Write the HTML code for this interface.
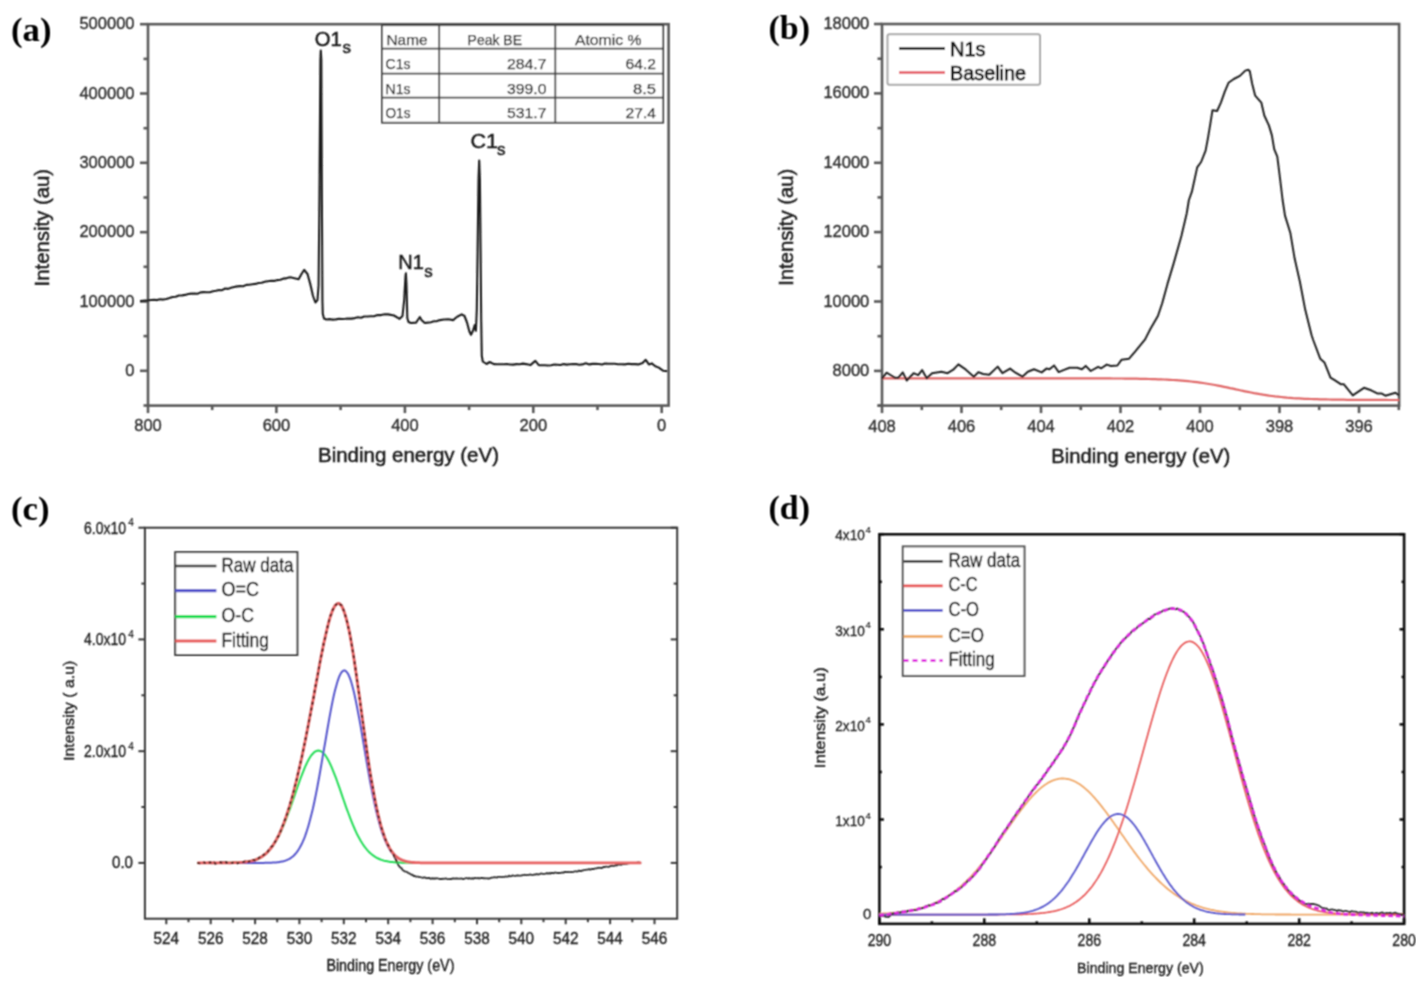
<!DOCTYPE html>
<html><head><meta charset="utf-8"><style>html,body{margin:0;padding:0;background:#fff;overflow:hidden}svg{display:block}</style></head><body>
<svg width="1425" height="984" viewBox="0 0 1425 984">
<defs><filter id="soft" x="0" y="0" width="1" height="1"><feConvolveMatrix order="3" kernelMatrix="1 2 1 2 4 2 1 2 1" edgeMode="none"/></filter></defs>
<rect width="1425" height="984" fill="#fff"/>
<g filter="url(#soft)">
<text x="11.0" y="40.6" font-family="Liberation Serif" font-size="34" font-weight="bold" text-anchor="start" fill="#000" textLength="40.5" lengthAdjust="spacingAndGlyphs" >(a)</text>
<text x="768.5" y="38.8" font-family="Liberation Serif" font-size="34" font-weight="bold" text-anchor="start" fill="#000" textLength="41.5" lengthAdjust="spacingAndGlyphs" >(b)</text>
<text x="11.0" y="520.2" font-family="Liberation Serif" font-size="34" font-weight="bold" text-anchor="start" fill="#000" textLength="38.5" lengthAdjust="spacingAndGlyphs" >(c)</text>
<text x="768.5" y="518.8" font-family="Liberation Serif" font-size="34" font-weight="bold" text-anchor="start" fill="#000" textLength="41.5" lengthAdjust="spacingAndGlyphs" >(d)</text>
<rect x="148.0" y="24.2" width="520.6" height="381.4" fill="none" stroke="#5a5a5a" stroke-width="2.6"/>
<line x1="140.0" y1="370.8" x2="148.0" y2="370.8" stroke="#5a5a5a" stroke-width="2.6"/>
<text x="134.5" y="375.8" font-family="Liberation Sans" font-size="16.5" font-weight="normal" text-anchor="end" fill="#2e2e2e" stroke="#2e2e2e" stroke-width="0.35" >0</text>
<line x1="140.0" y1="301.5" x2="148.0" y2="301.5" stroke="#5a5a5a" stroke-width="2.6"/>
<text x="134.5" y="306.5" font-family="Liberation Sans" font-size="16.5" font-weight="normal" text-anchor="end" fill="#2e2e2e" stroke="#2e2e2e" stroke-width="0.35" >100000</text>
<line x1="140.0" y1="232.2" x2="148.0" y2="232.2" stroke="#5a5a5a" stroke-width="2.6"/>
<text x="134.5" y="237.2" font-family="Liberation Sans" font-size="16.5" font-weight="normal" text-anchor="end" fill="#2e2e2e" stroke="#2e2e2e" stroke-width="0.35" >200000</text>
<line x1="140.0" y1="162.8" x2="148.0" y2="162.8" stroke="#5a5a5a" stroke-width="2.6"/>
<text x="134.5" y="167.8" font-family="Liberation Sans" font-size="16.5" font-weight="normal" text-anchor="end" fill="#2e2e2e" stroke="#2e2e2e" stroke-width="0.35" >300000</text>
<line x1="140.0" y1="93.5" x2="148.0" y2="93.5" stroke="#5a5a5a" stroke-width="2.6"/>
<text x="134.5" y="98.5" font-family="Liberation Sans" font-size="16.5" font-weight="normal" text-anchor="end" fill="#2e2e2e" stroke="#2e2e2e" stroke-width="0.35" >400000</text>
<line x1="140.0" y1="24.2" x2="148.0" y2="24.2" stroke="#5a5a5a" stroke-width="2.6"/>
<text x="134.5" y="29.2" font-family="Liberation Sans" font-size="16.5" font-weight="normal" text-anchor="end" fill="#2e2e2e" stroke="#2e2e2e" stroke-width="0.35" >500000</text>
<line x1="143.5" y1="405.5" x2="148.0" y2="405.5" stroke="#5a5a5a" stroke-width="2.6"/>
<line x1="143.5" y1="336.1" x2="148.0" y2="336.1" stroke="#5a5a5a" stroke-width="2.6"/>
<line x1="143.5" y1="266.8" x2="148.0" y2="266.8" stroke="#5a5a5a" stroke-width="2.6"/>
<line x1="143.5" y1="197.5" x2="148.0" y2="197.5" stroke="#5a5a5a" stroke-width="2.6"/>
<line x1="143.5" y1="128.2" x2="148.0" y2="128.2" stroke="#5a5a5a" stroke-width="2.6"/>
<line x1="143.5" y1="58.9" x2="148.0" y2="58.9" stroke="#5a5a5a" stroke-width="2.6"/>
<line x1="148.0" y1="405.6" x2="148.0" y2="413.1" stroke="#5a5a5a" stroke-width="2.6"/>
<text x="148.0" y="431.2" font-family="Liberation Sans" font-size="16.5" font-weight="normal" text-anchor="middle" fill="#2e2e2e" stroke="#2e2e2e" stroke-width="0.35" >800</text>
<line x1="276.4" y1="405.6" x2="276.4" y2="413.1" stroke="#5a5a5a" stroke-width="2.6"/>
<text x="276.4" y="431.2" font-family="Liberation Sans" font-size="16.5" font-weight="normal" text-anchor="middle" fill="#2e2e2e" stroke="#2e2e2e" stroke-width="0.35" >600</text>
<line x1="404.9" y1="405.6" x2="404.9" y2="413.1" stroke="#5a5a5a" stroke-width="2.6"/>
<text x="404.9" y="431.2" font-family="Liberation Sans" font-size="16.5" font-weight="normal" text-anchor="middle" fill="#2e2e2e" stroke="#2e2e2e" stroke-width="0.35" >400</text>
<line x1="533.3" y1="405.6" x2="533.3" y2="413.1" stroke="#5a5a5a" stroke-width="2.6"/>
<text x="533.3" y="431.2" font-family="Liberation Sans" font-size="16.5" font-weight="normal" text-anchor="middle" fill="#2e2e2e" stroke="#2e2e2e" stroke-width="0.35" >200</text>
<line x1="661.7" y1="405.6" x2="661.7" y2="413.1" stroke="#5a5a5a" stroke-width="2.6"/>
<text x="661.7" y="431.2" font-family="Liberation Sans" font-size="16.5" font-weight="normal" text-anchor="middle" fill="#2e2e2e" stroke="#2e2e2e" stroke-width="0.35" >0</text>
<line x1="212.2" y1="405.6" x2="212.2" y2="410.1" stroke="#5a5a5a" stroke-width="2.6"/>
<line x1="340.6" y1="405.6" x2="340.6" y2="410.1" stroke="#5a5a5a" stroke-width="2.6"/>
<line x1="469.1" y1="405.6" x2="469.1" y2="410.1" stroke="#5a5a5a" stroke-width="2.6"/>
<line x1="597.5" y1="405.6" x2="597.5" y2="410.1" stroke="#5a5a5a" stroke-width="2.6"/>
<text x="408.5" y="461.7" font-family="Liberation Sans" font-size="20" font-weight="normal" text-anchor="middle" fill="#1e1e1e" textLength="181.0" lengthAdjust="spacingAndGlyphs" stroke="#1e1e1e" stroke-width="0.5" >Binding energy (eV)</text>
<text x="0.0" y="0.0" font-family="Liberation Sans" font-size="20" font-weight="normal" text-anchor="middle" fill="#1e1e1e" textLength="117.5" lengthAdjust="spacingAndGlyphs" stroke="#1e1e1e" stroke-width="0.5" transform="translate(48.5,227.7) rotate(-90)">Intensity (au)</text>
<path d="M140.0,301.0 L148.0,300.4 L151.0,300.0 L154.1,299.7 L157.1,300.1 L160.2,299.2 L163.2,299.6 L166.3,298.9 L169.5,298.0 L172.6,297.0 L175.7,296.8 L178.9,295.5 L182.0,295.4 L185.1,294.9 L188.2,294.0 L191.3,293.6 L194.4,293.6 L197.5,293.7 L200.6,292.4 L203.7,292.1 L206.8,292.2 L209.9,292.2 L213.0,291.2 L216.0,290.8 L219.0,290.0 L222.1,290.2 L225.1,288.5 L228.1,288.9 L231.1,287.7 L234.2,287.0 L237.2,286.4 L240.2,286.1 L243.2,286.2 L246.3,284.9 L249.3,284.8 L252.3,284.2 L255.4,283.9 L258.5,283.0 L261.7,282.8 L264.8,281.7 L267.9,281.2 L271.0,280.8 L274.2,280.9 L277.3,280.1 L280.4,279.7 L283.7,278.6 L286.9,278.1 L290.2,277.2 L294.4,278.2 L298.6,279.3 L301.5,274.0 L304.2,269.8 L307.5,274.0 L310.5,284.9 L313.0,296.0 L315.4,302.5 L317.5,300.0 L318.6,285.0 L319.4,200.0 L320.4,60.0 L320.8,50.5 L321.3,60.0 L321.9,200.0 L322.4,300.0 L322.8,314.0 L324.0,318.5 L326.3,319.5 L329.5,319.1 L332.6,319.6 L335.8,319.4 L339.0,318.7 L342.1,319.0 L345.3,318.8 L348.4,318.5 L351.6,318.6 L354.8,318.1 L357.9,317.3 L361.1,317.8 L364.2,316.5 L367.4,316.5 L370.5,316.3 L374.0,316.2 L377.6,315.1 L381.1,315.1 L384.7,314.2 L388.2,314.4 L394.0,315.5 L399.6,318.8 L402.5,316.0 L404.2,300.0 L405.5,276.0 L405.9,273.4 L406.5,285.0 L407.3,318.0 L408.5,322.0 L411.0,323.0 L416.0,322.6 L418.5,319.0 L419.8,317.0 L421.5,320.0 L424.8,323.0 L427.8,322.6 L430.9,322.2 L433.9,321.3 L437.0,321.1 L440.0,320.1 L444.1,319.5 L448.3,319.3 L453.1,320.1 L457.2,316.8 L461.7,314.4 L464.5,316.0 L467.0,322.5 L469.4,331.5 L471.0,334.7 L473.0,330.7 L474.7,325.0 L475.9,330.7 L476.8,310.0 L477.6,250.0 L478.5,180.0 L479.2,160.5 L479.9,180.0 L480.6,250.0 L481.2,320.0 L481.8,356.0 L482.8,361.5 L486.5,364.0 L489.7,362.0 L493.9,364.1 L497.1,364.3 L500.3,364.2 L503.6,364.2 L506.8,364.0 L510.0,364.5 L513.2,364.6 L516.4,364.1 L519.7,364.3 L522.9,363.6 L526.1,364.1 L530.4,365.1 L535.3,360.9 L538.8,365.1 L541.9,365.3 L545.0,365.2 L548.1,365.5 L551.2,365.3 L554.3,364.6 L557.4,364.7 L560.5,365.0 L563.7,364.1 L566.8,364.6 L569.9,364.2 L573.0,364.1 L576.1,364.0 L579.2,364.8 L582.3,364.4 L585.8,363.3 L589.3,364.4 L592.5,363.9 L595.6,363.9 L598.8,364.0 L602.0,364.5 L605.1,363.5 L608.3,363.8 L611.4,363.8 L614.6,363.7 L618.0,364.3 L621.4,364.3 L624.8,364.4 L628.2,363.8 L631.6,364.1 L635.0,364.1 L638.4,364.4 L642.6,363.0 L645.7,359.8 L648.9,364.4 L651.8,363.4 L655.3,366.2 L658.8,367.6 L663.0,370.7 L667.2,371.1" fill="none" stroke="#1e1e1e" stroke-width="2.1" stroke-linejoin="round"/>
<text x="314.7" y="46.2" font-family="Liberation Sans" font-size="20" font-weight="normal" text-anchor="start" fill="#1a1a1a" textLength="27.0" lengthAdjust="spacingAndGlyphs" stroke="#1a1a1a" stroke-width="0.45" >O1</text>
<text x="398.3" y="269.0" font-family="Liberation Sans" font-size="20" font-weight="normal" text-anchor="start" fill="#1a1a1a" stroke="#1a1a1a" stroke-width="0.45" >N1</text>
<text x="470.6" y="148.2" font-family="Liberation Sans" font-size="20" font-weight="normal" text-anchor="start" fill="#1a1a1a" textLength="27.5" lengthAdjust="spacingAndGlyphs" stroke="#1a1a1a" stroke-width="0.45" >C1</text>
<text x="342.6" y="53.4" font-family="Liberation Sans" font-size="17" font-weight="normal" text-anchor="start" fill="#1a1a1a" stroke="#1a1a1a" stroke-width="0.45" >s</text>
<text x="424.2" y="277.1" font-family="Liberation Sans" font-size="17" font-weight="normal" text-anchor="start" fill="#1a1a1a" stroke="#1a1a1a" stroke-width="0.45" >s</text>
<text x="496.9" y="155.2" font-family="Liberation Sans" font-size="17" font-weight="normal" text-anchor="start" fill="#1a1a1a" stroke="#1a1a1a" stroke-width="0.45" >s</text>
<rect x="382.0" y="25.2" width="281.2" height="97.5" fill="#fff" stroke="#404040" stroke-width="1.8"/>
<line x1="439.2" y1="25.2" x2="439.2" y2="122.7" stroke="#404040" stroke-width="1.8"/>
<line x1="555.3" y1="25.2" x2="555.3" y2="122.7" stroke="#404040" stroke-width="1.8"/>
<line x1="382.0" y1="48.7" x2="663.2" y2="48.7" stroke="#404040" stroke-width="1.8"/>
<line x1="382.0" y1="73.7" x2="663.2" y2="73.7" stroke="#404040" stroke-width="1.8"/>
<line x1="382.0" y1="97.7" x2="663.2" y2="97.7" stroke="#404040" stroke-width="1.8"/>
<text x="386.5" y="45.0" font-family="Liberation Sans" font-size="14.5" font-weight="normal" text-anchor="start" fill="#2a2a2a" textLength="41.0" lengthAdjust="spacingAndGlyphs" stroke="#2a2a2a" stroke-width="0.25" >Name</text>
<text x="494.8" y="45.0" font-family="Liberation Sans" font-size="14.5" font-weight="normal" text-anchor="middle" fill="#2a2a2a" textLength="54.5" lengthAdjust="spacingAndGlyphs" stroke="#2a2a2a" stroke-width="0.25" >Peak BE</text>
<text x="608.2" y="45.0" font-family="Liberation Sans" font-size="14.5" font-weight="normal" text-anchor="middle" fill="#2a2a2a" textLength="66.5" lengthAdjust="spacingAndGlyphs" stroke="#2a2a2a" stroke-width="0.25" >Atomic %</text>
<text x="385.5" y="69.0" font-family="Liberation Sans" font-size="14.5" font-weight="normal" text-anchor="start" fill="#2a2a2a" textLength="25.0" lengthAdjust="spacingAndGlyphs" stroke="#2a2a2a" stroke-width="0.25" >C1s</text>
<text x="546.5" y="69.0" font-family="Liberation Sans" font-size="14.5" font-weight="normal" text-anchor="end" fill="#2a2a2a" textLength="39.5" lengthAdjust="spacingAndGlyphs" stroke="#2a2a2a" stroke-width="0.25" >284.7</text>
<text x="656.0" y="69.0" font-family="Liberation Sans" font-size="14.5" font-weight="normal" text-anchor="end" fill="#2a2a2a" textLength="30.5" lengthAdjust="spacingAndGlyphs" stroke="#2a2a2a" stroke-width="0.25" >64.2</text>
<text x="385.5" y="94.0" font-family="Liberation Sans" font-size="14.5" font-weight="normal" text-anchor="start" fill="#2a2a2a" textLength="25.0" lengthAdjust="spacingAndGlyphs" stroke="#2a2a2a" stroke-width="0.25" >N1s</text>
<text x="546.5" y="94.0" font-family="Liberation Sans" font-size="14.5" font-weight="normal" text-anchor="end" fill="#2a2a2a" textLength="39.5" lengthAdjust="spacingAndGlyphs" stroke="#2a2a2a" stroke-width="0.25" >399.0</text>
<text x="656.0" y="94.0" font-family="Liberation Sans" font-size="14.5" font-weight="normal" text-anchor="end" fill="#2a2a2a" textLength="23.0" lengthAdjust="spacingAndGlyphs" stroke="#2a2a2a" stroke-width="0.25" >8.5</text>
<text x="385.5" y="118.0" font-family="Liberation Sans" font-size="14.5" font-weight="normal" text-anchor="start" fill="#2a2a2a" textLength="25.0" lengthAdjust="spacingAndGlyphs" stroke="#2a2a2a" stroke-width="0.25" >O1s</text>
<text x="546.5" y="118.0" font-family="Liberation Sans" font-size="14.5" font-weight="normal" text-anchor="end" fill="#2a2a2a" textLength="39.5" lengthAdjust="spacingAndGlyphs" stroke="#2a2a2a" stroke-width="0.25" >531.7</text>
<text x="656.0" y="118.0" font-family="Liberation Sans" font-size="14.5" font-weight="normal" text-anchor="end" fill="#2a2a2a" textLength="30.5" lengthAdjust="spacingAndGlyphs" stroke="#2a2a2a" stroke-width="0.25" >27.4</text>
<rect x="882.0" y="24.0" width="517.1" height="381.6" fill="none" stroke="#5a5a5a" stroke-width="2.6"/>
<line x1="874.0" y1="370.9" x2="882.0" y2="370.9" stroke="#5a5a5a" stroke-width="2.6"/>
<text x="869.3" y="375.9" font-family="Liberation Sans" font-size="16.5" font-weight="normal" text-anchor="end" fill="#2e2e2e" stroke="#2e2e2e" stroke-width="0.35" >8000</text>
<line x1="874.0" y1="301.5" x2="882.0" y2="301.5" stroke="#5a5a5a" stroke-width="2.6"/>
<text x="869.3" y="306.5" font-family="Liberation Sans" font-size="16.5" font-weight="normal" text-anchor="end" fill="#2e2e2e" stroke="#2e2e2e" stroke-width="0.35" >10000</text>
<line x1="874.0" y1="232.1" x2="882.0" y2="232.1" stroke="#5a5a5a" stroke-width="2.6"/>
<text x="869.3" y="237.1" font-family="Liberation Sans" font-size="16.5" font-weight="normal" text-anchor="end" fill="#2e2e2e" stroke="#2e2e2e" stroke-width="0.35" >12000</text>
<line x1="874.0" y1="162.8" x2="882.0" y2="162.8" stroke="#5a5a5a" stroke-width="2.6"/>
<text x="869.3" y="167.8" font-family="Liberation Sans" font-size="16.5" font-weight="normal" text-anchor="end" fill="#2e2e2e" stroke="#2e2e2e" stroke-width="0.35" >14000</text>
<line x1="874.0" y1="93.4" x2="882.0" y2="93.4" stroke="#5a5a5a" stroke-width="2.6"/>
<text x="869.3" y="98.4" font-family="Liberation Sans" font-size="16.5" font-weight="normal" text-anchor="end" fill="#2e2e2e" stroke="#2e2e2e" stroke-width="0.35" >16000</text>
<line x1="874.0" y1="24.0" x2="882.0" y2="24.0" stroke="#5a5a5a" stroke-width="2.6"/>
<text x="869.3" y="29.0" font-family="Liberation Sans" font-size="16.5" font-weight="normal" text-anchor="end" fill="#2e2e2e" stroke="#2e2e2e" stroke-width="0.35" >18000</text>
<line x1="877.5" y1="405.6" x2="882.0" y2="405.6" stroke="#5a5a5a" stroke-width="2.6"/>
<line x1="877.5" y1="336.2" x2="882.0" y2="336.2" stroke="#5a5a5a" stroke-width="2.6"/>
<line x1="877.5" y1="266.8" x2="882.0" y2="266.8" stroke="#5a5a5a" stroke-width="2.6"/>
<line x1="877.5" y1="197.4" x2="882.0" y2="197.4" stroke="#5a5a5a" stroke-width="2.6"/>
<line x1="877.5" y1="128.1" x2="882.0" y2="128.1" stroke="#5a5a5a" stroke-width="2.6"/>
<line x1="877.5" y1="58.7" x2="882.0" y2="58.7" stroke="#5a5a5a" stroke-width="2.6"/>
<line x1="882.0" y1="405.6" x2="882.0" y2="413.1" stroke="#5a5a5a" stroke-width="2.6"/>
<text x="882.0" y="431.5" font-family="Liberation Sans" font-size="16.5" font-weight="normal" text-anchor="middle" fill="#2e2e2e" stroke="#2e2e2e" stroke-width="0.35" >408</text>
<line x1="961.5" y1="405.6" x2="961.5" y2="413.1" stroke="#5a5a5a" stroke-width="2.6"/>
<text x="961.5" y="431.5" font-family="Liberation Sans" font-size="16.5" font-weight="normal" text-anchor="middle" fill="#2e2e2e" stroke="#2e2e2e" stroke-width="0.35" >406</text>
<line x1="1041.0" y1="405.6" x2="1041.0" y2="413.1" stroke="#5a5a5a" stroke-width="2.6"/>
<text x="1041.0" y="431.5" font-family="Liberation Sans" font-size="16.5" font-weight="normal" text-anchor="middle" fill="#2e2e2e" stroke="#2e2e2e" stroke-width="0.35" >404</text>
<line x1="1120.5" y1="405.6" x2="1120.5" y2="413.1" stroke="#5a5a5a" stroke-width="2.6"/>
<text x="1120.5" y="431.5" font-family="Liberation Sans" font-size="16.5" font-weight="normal" text-anchor="middle" fill="#2e2e2e" stroke="#2e2e2e" stroke-width="0.35" >402</text>
<line x1="1200.0" y1="405.6" x2="1200.0" y2="413.1" stroke="#5a5a5a" stroke-width="2.6"/>
<text x="1200.0" y="431.5" font-family="Liberation Sans" font-size="16.5" font-weight="normal" text-anchor="middle" fill="#2e2e2e" stroke="#2e2e2e" stroke-width="0.35" >400</text>
<line x1="1279.5" y1="405.6" x2="1279.5" y2="413.1" stroke="#5a5a5a" stroke-width="2.6"/>
<text x="1279.5" y="431.5" font-family="Liberation Sans" font-size="16.5" font-weight="normal" text-anchor="middle" fill="#2e2e2e" stroke="#2e2e2e" stroke-width="0.35" >398</text>
<line x1="1359.0" y1="405.6" x2="1359.0" y2="413.1" stroke="#5a5a5a" stroke-width="2.6"/>
<text x="1359.0" y="431.5" font-family="Liberation Sans" font-size="16.5" font-weight="normal" text-anchor="middle" fill="#2e2e2e" stroke="#2e2e2e" stroke-width="0.35" >396</text>
<line x1="921.8" y1="405.6" x2="921.8" y2="410.1" stroke="#5a5a5a" stroke-width="2.6"/>
<line x1="1001.2" y1="405.6" x2="1001.2" y2="410.1" stroke="#5a5a5a" stroke-width="2.6"/>
<line x1="1080.8" y1="405.6" x2="1080.8" y2="410.1" stroke="#5a5a5a" stroke-width="2.6"/>
<line x1="1160.2" y1="405.6" x2="1160.2" y2="410.1" stroke="#5a5a5a" stroke-width="2.6"/>
<line x1="1239.8" y1="405.6" x2="1239.8" y2="410.1" stroke="#5a5a5a" stroke-width="2.6"/>
<line x1="1319.2" y1="405.6" x2="1319.2" y2="410.1" stroke="#5a5a5a" stroke-width="2.6"/>
<line x1="1398.8" y1="405.6" x2="1398.8" y2="410.1" stroke="#5a5a5a" stroke-width="2.6"/>
<line x1="877.5" y1="405.6" x2="882.0" y2="405.6" stroke="#5a5a5a" stroke-width="2.6"/>
<text x="1140.8" y="462.9" font-family="Liberation Sans" font-size="20" font-weight="normal" text-anchor="middle" fill="#1e1e1e" textLength="179.0" lengthAdjust="spacingAndGlyphs" stroke="#1e1e1e" stroke-width="0.5" >Binding energy (eV)</text>
<text x="0.0" y="0.0" font-family="Liberation Sans" font-size="20" font-weight="normal" text-anchor="middle" fill="#1e1e1e" textLength="117.0" lengthAdjust="spacingAndGlyphs" stroke="#1e1e1e" stroke-width="0.5" transform="translate(793,227.3) rotate(-90)">Intensity (au)</text>
<path d="M882.0,378.3 L885.0,378.3 L888.0,378.3 L891.0,378.3 L894.0,378.3 L897.0,378.3 L900.0,378.3 L903.0,378.3 L906.0,378.3 L909.0,378.3 L912.0,378.3 L915.0,378.3 L918.0,378.3 L921.0,378.3 L924.0,378.3 L927.0,378.3 L930.0,378.3 L933.0,378.3 L936.0,378.3 L939.0,378.3 L942.0,378.3 L945.0,378.3 L948.0,378.3 L951.0,378.3 L954.0,378.3 L957.0,378.3 L960.0,378.3 L963.0,378.3 L966.0,378.3 L969.0,378.3 L972.0,378.3 L975.0,378.3 L978.0,378.3 L981.0,378.3 L984.0,378.3 L987.0,378.3 L990.0,378.3 L993.0,378.3 L996.0,378.3 L999.0,378.3 L1002.0,378.3 L1005.0,378.3 L1008.0,378.3 L1011.0,378.3 L1014.0,378.3 L1017.0,378.3 L1020.0,378.3 L1023.0,378.3 L1026.0,378.3 L1029.0,378.3 L1032.0,378.3 L1035.0,378.3 L1038.0,378.3 L1041.0,378.3 L1044.0,378.3 L1047.0,378.3 L1050.0,378.3 L1053.0,378.3 L1056.0,378.3 L1059.0,378.3 L1062.0,378.3 L1065.0,378.3 L1068.0,378.3 L1071.0,378.3 L1074.0,378.3 L1077.0,378.3 L1080.0,378.3 L1083.0,378.3 L1086.0,378.4 L1089.0,378.4 L1092.0,378.4 L1095.0,378.4 L1098.0,378.4 L1101.0,378.4 L1104.0,378.4 L1107.0,378.4 L1110.0,378.4 L1113.0,378.5 L1116.0,378.5 L1119.0,378.5 L1122.0,378.5 L1125.0,378.6 L1128.0,378.6 L1131.0,378.6 L1134.0,378.7 L1137.0,378.7 L1140.0,378.8 L1143.0,378.8 L1146.0,378.9 L1149.0,379.0 L1152.0,379.1 L1155.0,379.1 L1158.0,379.3 L1161.0,379.4 L1164.0,379.5 L1167.0,379.6 L1170.0,379.8 L1173.0,380.0 L1176.0,380.2 L1179.0,380.4 L1182.0,380.6 L1185.0,380.9 L1188.0,381.2 L1191.0,381.5 L1194.0,381.8 L1197.0,382.2 L1200.0,382.6 L1203.0,383.0 L1206.0,383.5 L1209.0,384.0 L1212.0,384.5 L1215.0,385.0 L1218.0,385.6 L1221.0,386.2 L1224.0,386.8 L1227.0,387.4 L1230.0,388.1 L1233.0,388.7 L1236.0,389.4 L1239.0,390.0 L1242.0,390.7 L1245.0,391.3 L1248.0,391.9 L1251.0,392.5 L1254.0,393.1 L1257.0,393.6 L1260.0,394.2 L1263.0,394.7 L1266.0,395.1 L1269.0,395.6 L1272.0,396.0 L1275.0,396.4 L1278.0,396.7 L1281.0,397.0 L1284.0,397.3 L1287.0,397.6 L1290.0,397.8 L1293.0,398.1 L1296.0,398.3 L1299.0,398.4 L1302.0,398.6 L1305.0,398.8 L1308.0,398.9 L1311.0,399.0 L1314.0,399.1 L1317.0,399.2 L1320.0,399.3 L1323.0,399.4 L1326.0,399.4 L1329.0,399.5 L1332.0,399.6 L1335.0,399.6 L1338.0,399.7 L1341.0,399.7 L1344.0,399.7 L1347.0,399.8 L1350.0,399.8 L1353.0,399.8 L1356.0,399.8 L1359.0,399.8 L1362.0,399.9 L1365.0,399.9 L1368.0,399.9 L1371.0,399.9 L1374.0,399.9 L1377.0,399.9 L1380.0,399.9 L1383.0,399.9 L1386.0,399.9 L1389.0,400.0 L1392.0,400.0 L1395.0,400.0 L1398.0,400.0 L1399.1,400.0" fill="none" stroke="#e06868" stroke-width="2.2"/>
<path d="M882.0,378.6 L886.6,372.7 L890.5,375.0 L895.1,377.8 L898.2,377.8 L902.8,372.4 L906.7,380.5 L913.6,373.2 L918.2,375.2 L922.1,370.1 L926.7,378.3 L932.1,373.2 L941.4,371.7 L947.6,373.2 L953.7,369.3 L958.4,364.4 L964.5,368.6 L973.8,376.7 L978.4,372.1 L983.1,374.0 L989.2,374.7 L997.7,366.6 L1002.4,373.2 L1010.1,368.6 L1015.5,372.7 L1022.4,376.7 L1027.8,371.7 L1034.0,369.3 L1041.7,372.4 L1046.4,368.6 L1049.5,369.3 L1054.1,365.5 L1058.7,372.1 L1063.4,370.1 L1069.5,367.8 L1077.3,367.8 L1081.9,369.3 L1085.7,365.9 L1090.7,371.0 L1098.1,366.8 L1101.3,368.3 L1106.7,364.6 L1111.0,366.0 L1117.4,365.5 L1121.6,359.7 L1129.1,358.7 L1135.5,351.2 L1145.1,339.4 L1150.5,328.8 L1157.9,316.0 L1162.2,303.2 L1167.5,283.9 L1173.9,262.6 L1181.4,235.9 L1186.7,213.5 L1188.9,200.0 L1191.9,191.7 L1197.2,167.4 L1201.1,162.0 L1205.6,150.6 L1207.9,138.4 L1210.2,124.7 L1212.5,110.2 L1217.1,111.0 L1220.9,102.6 L1224.7,91.9 L1228.5,82.8 L1233.8,79.0 L1239.9,75.9 L1245.3,70.6 L1248.3,69.8 L1249.8,71.3 L1252.1,83.5 L1255.2,95.7 L1261.3,102.6 L1264.3,115.5 L1268.9,125.4 L1271.9,135.4 L1274.2,149.1 L1277.3,156.7 L1279.6,175.0 L1282.6,200.0 L1285.0,215.6 L1290.3,232.7 L1294.6,258.3 L1299.9,281.8 L1305.2,309.6 L1311.6,335.2 L1313.2,340.0 L1320.3,358.8 L1324.4,362.4 L1330.5,377.6 L1334.6,380.1 L1340.7,384.2 L1343.7,384.2 L1352.8,395.4 L1364.0,387.8 L1371.1,390.3 L1377.2,393.4 L1381.3,393.4 L1385.4,395.7 L1395.5,392.8 L1399.1,395.4" fill="none" stroke="#222" stroke-width="2.0" stroke-linejoin="round"/>
<rect x="887.5" y="34.2" width="152.5" height="50.5" rx="2" fill="#fff" stroke="#a8a8a8" stroke-width="2"/>
<line x1="899.0" y1="48.5" x2="945.0" y2="48.5" stroke="#3a3a3a" stroke-width="2.8"/>
<line x1="899.0" y1="72.5" x2="945.0" y2="72.5" stroke="#e87078" stroke-width="2.8"/>
<text x="950.0" y="55.5" font-family="Liberation Sans" font-size="20" font-weight="normal" text-anchor="start" fill="#141414" stroke="#141414" stroke-width="0.75" >N1s</text>
<text x="950.0" y="79.6" font-family="Liberation Sans" font-size="20" font-weight="normal" text-anchor="start" fill="#141414" textLength="76.0" lengthAdjust="spacingAndGlyphs" stroke="#141414" stroke-width="0.75" >Baseline</text>
<rect x="144.9" y="527.7" width="532.3" height="391.0" fill="none" stroke="#383838" stroke-width="2"/>
<line x1="138.4" y1="862.9" x2="144.9" y2="862.9" stroke="#383838" stroke-width="2"/>
<line x1="670.7" y1="862.9" x2="677.2" y2="862.9" stroke="#383838" stroke-width="2"/>
<line x1="138.4" y1="751.2" x2="144.9" y2="751.2" stroke="#383838" stroke-width="2"/>
<line x1="670.7" y1="751.2" x2="677.2" y2="751.2" stroke="#383838" stroke-width="2"/>
<line x1="138.4" y1="639.4" x2="144.9" y2="639.4" stroke="#383838" stroke-width="2"/>
<line x1="670.7" y1="639.4" x2="677.2" y2="639.4" stroke="#383838" stroke-width="2"/>
<line x1="138.4" y1="527.7" x2="144.9" y2="527.7" stroke="#383838" stroke-width="2"/>
<line x1="670.7" y1="527.7" x2="677.2" y2="527.7" stroke="#383838" stroke-width="2"/>
<line x1="141.4" y1="807.0" x2="144.9" y2="807.0" stroke="#383838" stroke-width="2"/>
<line x1="673.7" y1="807.0" x2="677.2" y2="807.0" stroke="#383838" stroke-width="2"/>
<line x1="141.4" y1="695.3" x2="144.9" y2="695.3" stroke="#383838" stroke-width="2"/>
<line x1="673.7" y1="695.3" x2="677.2" y2="695.3" stroke="#383838" stroke-width="2"/>
<line x1="141.4" y1="583.6" x2="144.9" y2="583.6" stroke="#383838" stroke-width="2"/>
<line x1="673.7" y1="583.6" x2="677.2" y2="583.6" stroke="#383838" stroke-width="2"/>
<line x1="166.3" y1="918.7" x2="166.3" y2="924.2" stroke="#383838" stroke-width="2"/>
<text x="166.3" y="944.2" font-family="Liberation Sans" font-size="16.2" font-weight="normal" text-anchor="middle" fill="#222" textLength="25.5" lengthAdjust="spacingAndGlyphs" stroke="#222" stroke-width="0.35" >524</text>
<line x1="210.7" y1="918.7" x2="210.7" y2="924.2" stroke="#383838" stroke-width="2"/>
<text x="210.7" y="944.2" font-family="Liberation Sans" font-size="16.2" font-weight="normal" text-anchor="middle" fill="#222" textLength="25.5" lengthAdjust="spacingAndGlyphs" stroke="#222" stroke-width="0.35" >526</text>
<line x1="255.1" y1="918.7" x2="255.1" y2="924.2" stroke="#383838" stroke-width="2"/>
<text x="255.1" y="944.2" font-family="Liberation Sans" font-size="16.2" font-weight="normal" text-anchor="middle" fill="#222" textLength="25.5" lengthAdjust="spacingAndGlyphs" stroke="#222" stroke-width="0.35" >528</text>
<line x1="299.4" y1="918.7" x2="299.4" y2="924.2" stroke="#383838" stroke-width="2"/>
<text x="299.4" y="944.2" font-family="Liberation Sans" font-size="16.2" font-weight="normal" text-anchor="middle" fill="#222" textLength="25.5" lengthAdjust="spacingAndGlyphs" stroke="#222" stroke-width="0.35" >530</text>
<line x1="343.8" y1="918.7" x2="343.8" y2="924.2" stroke="#383838" stroke-width="2"/>
<text x="343.8" y="944.2" font-family="Liberation Sans" font-size="16.2" font-weight="normal" text-anchor="middle" fill="#222" textLength="25.5" lengthAdjust="spacingAndGlyphs" stroke="#222" stroke-width="0.35" >532</text>
<line x1="388.2" y1="918.7" x2="388.2" y2="924.2" stroke="#383838" stroke-width="2"/>
<text x="388.2" y="944.2" font-family="Liberation Sans" font-size="16.2" font-weight="normal" text-anchor="middle" fill="#222" textLength="25.5" lengthAdjust="spacingAndGlyphs" stroke="#222" stroke-width="0.35" >534</text>
<line x1="432.6" y1="918.7" x2="432.6" y2="924.2" stroke="#383838" stroke-width="2"/>
<text x="432.6" y="944.2" font-family="Liberation Sans" font-size="16.2" font-weight="normal" text-anchor="middle" fill="#222" textLength="25.5" lengthAdjust="spacingAndGlyphs" stroke="#222" stroke-width="0.35" >536</text>
<line x1="477.0" y1="918.7" x2="477.0" y2="924.2" stroke="#383838" stroke-width="2"/>
<text x="477.0" y="944.2" font-family="Liberation Sans" font-size="16.2" font-weight="normal" text-anchor="middle" fill="#222" textLength="25.5" lengthAdjust="spacingAndGlyphs" stroke="#222" stroke-width="0.35" >538</text>
<line x1="521.3" y1="918.7" x2="521.3" y2="924.2" stroke="#383838" stroke-width="2"/>
<text x="521.3" y="944.2" font-family="Liberation Sans" font-size="16.2" font-weight="normal" text-anchor="middle" fill="#222" textLength="25.5" lengthAdjust="spacingAndGlyphs" stroke="#222" stroke-width="0.35" >540</text>
<line x1="565.7" y1="918.7" x2="565.7" y2="924.2" stroke="#383838" stroke-width="2"/>
<text x="565.7" y="944.2" font-family="Liberation Sans" font-size="16.2" font-weight="normal" text-anchor="middle" fill="#222" textLength="25.5" lengthAdjust="spacingAndGlyphs" stroke="#222" stroke-width="0.35" >542</text>
<line x1="610.1" y1="918.7" x2="610.1" y2="924.2" stroke="#383838" stroke-width="2"/>
<text x="610.1" y="944.2" font-family="Liberation Sans" font-size="16.2" font-weight="normal" text-anchor="middle" fill="#222" textLength="25.5" lengthAdjust="spacingAndGlyphs" stroke="#222" stroke-width="0.35" >544</text>
<line x1="654.5" y1="918.7" x2="654.5" y2="924.2" stroke="#383838" stroke-width="2"/>
<text x="654.5" y="944.2" font-family="Liberation Sans" font-size="16.2" font-weight="normal" text-anchor="middle" fill="#222" textLength="25.5" lengthAdjust="spacingAndGlyphs" stroke="#222" stroke-width="0.35" >546</text>
<line x1="188.5" y1="918.7" x2="188.5" y2="922.2" stroke="#383838" stroke-width="2"/>
<line x1="232.9" y1="918.7" x2="232.9" y2="922.2" stroke="#383838" stroke-width="2"/>
<line x1="277.2" y1="918.7" x2="277.2" y2="922.2" stroke="#383838" stroke-width="2"/>
<line x1="321.6" y1="918.7" x2="321.6" y2="922.2" stroke="#383838" stroke-width="2"/>
<line x1="366.0" y1="918.7" x2="366.0" y2="922.2" stroke="#383838" stroke-width="2"/>
<line x1="410.4" y1="918.7" x2="410.4" y2="922.2" stroke="#383838" stroke-width="2"/>
<line x1="454.8" y1="918.7" x2="454.8" y2="922.2" stroke="#383838" stroke-width="2"/>
<line x1="499.2" y1="918.7" x2="499.2" y2="922.2" stroke="#383838" stroke-width="2"/>
<line x1="543.5" y1="918.7" x2="543.5" y2="922.2" stroke="#383838" stroke-width="2"/>
<line x1="587.9" y1="918.7" x2="587.9" y2="922.2" stroke="#383838" stroke-width="2"/>
<line x1="632.3" y1="918.7" x2="632.3" y2="922.2" stroke="#383838" stroke-width="2"/>
<text x="133.0" y="868.4" font-family="Liberation Sans" font-size="16.5" font-weight="normal" text-anchor="end" fill="#222" textLength="21.0" lengthAdjust="spacingAndGlyphs" stroke="#222" stroke-width="0.35" >0.0</text>
<text x="126.0" y="757.2" font-family="Liberation Sans" font-size="16.5" font-weight="normal" text-anchor="end" fill="#222" textLength="42.0" lengthAdjust="spacingAndGlyphs" stroke="#222" stroke-width="0.35" >2.0x10</text>
<text x="128.2" y="749.8" font-family="Liberation Sans" font-size="10" font-weight="normal" text-anchor="start" fill="#222" stroke="#222" stroke-width="0.2" >4</text>
<text x="126.0" y="645.4" font-family="Liberation Sans" font-size="16.5" font-weight="normal" text-anchor="end" fill="#222" textLength="42.0" lengthAdjust="spacingAndGlyphs" stroke="#222" stroke-width="0.35" >4.0x10</text>
<text x="128.2" y="638.0" font-family="Liberation Sans" font-size="10" font-weight="normal" text-anchor="start" fill="#222" stroke="#222" stroke-width="0.2" >4</text>
<text x="126.0" y="533.7" font-family="Liberation Sans" font-size="16.5" font-weight="normal" text-anchor="end" fill="#222" textLength="42.0" lengthAdjust="spacingAndGlyphs" stroke="#222" stroke-width="0.35" >6.0x10</text>
<text x="128.2" y="526.3" font-family="Liberation Sans" font-size="10" font-weight="normal" text-anchor="start" fill="#222" stroke="#222" stroke-width="0.2" >4</text>
<text x="390.4" y="970.5" font-family="Liberation Sans" font-size="16" font-weight="normal" text-anchor="middle" fill="#1a1a1a" textLength="128.0" lengthAdjust="spacingAndGlyphs" stroke="#1a1a1a" stroke-width="0.35" >Binding Energy (eV)</text>
<text x="0.0" y="0.0" font-family="Liberation Sans" font-size="15" font-weight="normal" text-anchor="middle" fill="#1a1a1a" textLength="100.0" lengthAdjust="spacingAndGlyphs" stroke="#1a1a1a" stroke-width="0.35" transform="translate(74.3,710.8) rotate(-90)">Intensity ( a.u)</text>
<path d="M197.4,862.8 L198.5,863.0 L199.6,863.4 L200.7,862.9 L201.8,862.9 L202.9,863.0 L204.0,862.5 L205.1,862.9 L206.2,863.1 L207.4,863.2 L208.5,862.4 L209.6,862.7 L210.7,862.4 L211.8,863.3 L212.9,863.1 L214.0,862.3 L215.1,863.5 L216.2,863.4 L217.3,863.1 L218.4,863.0 L219.6,862.5 L220.7,862.3 L221.8,862.9 L222.9,862.3 L224.0,862.5 L225.1,862.5 L226.2,862.3 L227.3,862.8 L228.4,862.8 L229.5,863.2 L230.7,862.8 L231.8,862.9 L232.9,862.7 L234.0,862.9 L235.1,862.6 L236.2,862.4 L237.3,863.2 L238.4,863.1 L239.5,862.9 L240.6,862.7 L241.7,862.1 L242.9,861.9 L244.0,861.9 L245.1,861.5 L246.2,862.2 L247.3,861.6 L248.4,862.0 L249.5,861.2 L250.6,861.7 L251.7,861.3 L252.8,860.0 L254.0,859.9 L255.1,860.4 L256.2,859.5 L257.3,859.6 L258.4,858.4 L259.5,857.5 L260.6,857.5 L261.7,857.0 L262.8,855.7 L263.9,854.7 L265.0,854.1 L266.2,853.9 L267.3,852.6 L268.4,850.6 L269.5,849.5 L270.6,848.0 L271.7,846.5 L272.8,845.8 L273.9,843.4 L275.0,842.1 L276.1,840.0 L277.2,837.7 L278.4,836.2 L279.5,833.1 L280.6,831.3 L281.7,828.1 L282.8,825.7 L283.9,822.6 L285.0,819.6 L286.1,817.3 L287.2,813.8 L288.3,809.8 L289.5,806.9 L290.6,802.3 L291.7,798.7 L292.8,795.2 L293.9,790.8 L295.0,785.8 L296.1,782.5 L297.2,777.0 L298.3,772.3 L299.4,768.1 L300.5,762.6 L301.7,757.5 L302.8,752.0 L303.9,746.7 L305.0,741.9 L306.1,736.0 L307.2,730.8 L308.3,724.8 L309.4,719.1 L310.5,713.8 L311.6,707.3 L312.8,701.5 L313.9,695.8 L315.0,689.0 L316.1,682.9 L317.2,677.8 L318.3,671.8 L319.4,665.2 L320.5,659.3 L321.6,654.3 L322.7,649.0 L323.8,642.7 L325.0,638.4 L326.1,633.4 L327.2,628.4 L328.3,623.8 L329.4,619.4 L330.5,615.7 L331.6,613.5 L332.7,609.8 L333.8,608.0 L334.9,605.6 L336.1,604.9 L337.2,603.8 L338.3,603.1 L339.4,603.3 L340.5,604.8 L341.6,605.5 L342.7,607.7 L343.8,610.8 L344.9,614.3 L346.0,617.8 L347.1,621.7 L348.3,627.3 L349.4,631.8 L350.5,637.4 L351.6,643.9 L352.7,650.7 L353.8,657.2 L354.9,664.7 L356.0,672.4 L357.1,680.4 L358.2,687.9 L359.4,696.2 L360.5,705.0 L361.6,713.2 L362.7,721.0 L363.8,729.1 L364.9,737.0 L366.0,744.3 L367.1,751.9 L368.2,759.4 L369.3,767.7 L370.4,774.5 L371.6,781.6 L372.7,786.9 L373.8,793.8 L374.9,799.5 L376.0,805.3 L377.1,810.0 L378.2,815.7 L379.3,819.1 L380.4,823.9 L381.5,828.1 L382.7,831.9 L383.8,835.1 L384.9,838.1 L386.0,841.0 L387.1,843.7 L388.2,845.3 L389.3,847.8 L390.4,850.0 L391.5,851.6 L392.6,852.1 L393.7,855.0 L394.9,857.6 L396.0,859.9 L397.1,862.4 L398.2,864.8 L399.3,866.5 L400.4,867.6 L401.5,868.2 L402.6,869.8 L403.7,870.8 L404.8,871.3 L406.0,871.7 L407.1,872.0 L408.2,873.0 L409.3,873.4 L410.4,873.9 L411.5,874.9 L412.6,874.8 L413.7,876.0 L414.8,876.0 L415.9,876.7 L417.0,876.7 L418.2,876.7 L419.3,877.2 L420.4,877.2 L421.5,877.5 L422.6,877.9 L423.7,877.5 L424.8,877.4 L425.9,877.9 L427.0,878.4 L428.1,878.0 L429.3,878.0 L430.4,878.7 L431.5,878.5 L432.6,878.3 L433.7,878.8 L434.8,878.3 L435.9,878.6 L437.0,878.2 L438.1,878.5 L439.2,878.8 L440.3,879.0 L441.5,879.0 L442.6,878.6 L443.7,878.8 L444.8,878.6 L445.9,878.4 L447.0,878.8 L448.1,879.1 L449.2,879.1 L450.3,878.9 L451.4,879.1 L452.6,878.5 L453.7,878.4 L454.8,878.6 L455.9,878.5 L457.0,878.4 L458.1,878.6 L459.2,878.7 L460.3,878.6 L461.4,878.4 L462.5,878.9 L463.6,879.0 L464.8,878.5 L465.9,878.1 L467.0,878.1 L468.1,878.8 L469.2,878.1 L470.3,878.6 L471.4,878.5 L472.5,878.3 L473.6,878.7 L474.7,878.0 L475.9,878.1 L477.0,878.3 L478.1,877.9 L479.2,878.6 L480.3,878.1 L481.4,878.0 L482.5,877.9 L483.6,878.4 L484.7,878.2 L485.8,878.3 L486.9,878.4 L488.1,878.5 L489.2,878.5 L490.3,878.1 L491.4,877.6 L492.5,877.7 L493.6,877.4 L494.7,877.1 L495.8,877.4 L496.9,877.5 L498.0,876.9 L499.1,876.9 L500.3,876.9 L501.4,877.1 L502.5,876.8 L503.6,876.8 L504.7,876.8 L505.8,876.4 L506.9,876.6 L508.0,876.6 L509.1,875.7 L510.2,876.4 L511.4,876.1 L512.5,875.5 L513.6,875.7 L514.7,875.8 L515.8,875.9 L516.9,875.4 L518.0,875.5 L519.1,875.7 L520.2,875.6 L521.3,875.6 L522.4,875.1 L523.6,875.2 L524.7,874.7 L525.8,875.1 L526.9,875.1 L528.0,874.9 L529.1,874.9 L530.2,874.4 L531.3,874.9 L532.4,874.9 L533.5,874.8 L534.7,874.4 L535.8,874.5 L536.9,874.0 L538.0,874.5 L539.1,874.4 L540.2,873.8 L541.3,873.5 L542.4,873.8 L543.5,873.8 L544.6,873.9 L545.7,873.6 L546.9,873.1 L548.0,873.7 L549.1,873.0 L550.2,873.6 L551.3,872.9 L552.4,873.0 L553.5,873.3 L554.6,872.7 L555.7,872.6 L556.8,872.9 L558.0,873.0 L559.1,873.0 L560.2,872.8 L561.3,872.9 L562.4,872.5 L563.5,872.8 L564.6,871.9 L565.7,872.0 L566.8,872.2 L567.9,871.9 L569.0,872.2 L570.2,872.1 L571.3,871.9 L572.4,872.1 L573.5,871.8 L574.6,871.4 L575.7,871.3 L576.8,871.5 L577.9,871.4 L579.0,870.6 L580.1,871.0 L581.3,871.0 L582.4,870.4 L583.5,870.3 L584.6,869.8 L585.7,869.9 L586.8,869.7 L587.9,869.7 L589.0,869.0 L590.1,869.7 L591.2,869.1 L592.3,868.8 L593.5,869.0 L594.6,868.6 L595.7,868.4 L596.8,868.4 L597.9,867.7 L599.0,867.9 L600.1,867.7 L601.2,868.0 L602.3,867.8 L603.4,867.0 L604.6,867.0 L605.7,866.6 L606.8,866.7 L607.9,866.8 L609.0,866.8 L610.1,866.2 L611.2,865.9 L612.3,865.6 L613.4,865.8 L614.5,865.9 L615.6,865.1 L616.8,865.5 L617.9,864.6 L619.0,864.6 L620.1,864.5 L621.2,864.7 L622.3,864.2 L623.4,864.1 L624.5,864.2 L625.6,863.6 L626.7,864.0 L627.9,863.3 L629.0,863.4 L630.1,863.0 L631.2,862.9 L632.3,863.1 L633.4,863.0 L634.5,862.9 L635.6,862.9 L636.7,862.9 L637.8,862.5 L638.9,862.5 L640.1,862.8 L641.2,862.8" fill="none" stroke="#2e2e2e" stroke-width="1.8"/>
<path d="M197.4,862.9 L198.5,862.9 L199.6,862.9 L200.7,862.9 L201.8,862.9 L202.9,862.9 L204.0,862.9 L205.1,862.9 L206.2,862.9 L207.4,862.9 L208.5,862.9 L209.6,862.9 L210.7,862.9 L211.8,862.9 L212.9,862.9 L214.0,862.9 L215.1,862.9 L216.2,862.9 L217.3,862.9 L218.4,862.9 L219.6,862.9 L220.7,862.9 L221.8,862.9 L222.9,862.9 L224.0,862.9 L225.1,862.9 L226.2,862.8 L227.3,862.8 L228.4,862.8 L229.5,862.8 L230.7,862.8 L231.8,862.8 L232.9,862.7 L234.0,862.7 L235.1,862.7 L236.2,862.6 L237.3,862.6 L238.4,862.5 L239.5,862.5 L240.6,862.4 L241.7,862.3 L242.9,862.2 L244.0,862.1 L245.1,862.0 L246.2,861.9 L247.3,861.7 L248.4,861.5 L249.5,861.3 L250.6,861.1 L251.7,860.9 L252.8,860.6 L254.0,860.2 L255.1,859.9 L256.2,859.5 L257.3,859.0 L258.4,858.5 L259.5,858.0 L260.6,857.4 L261.7,856.7 L262.8,855.9 L263.9,855.1 L265.0,854.2 L266.2,853.3 L267.3,852.2 L268.4,851.1 L269.5,849.9 L270.6,848.5 L271.7,847.1 L272.8,845.6 L273.9,844.0 L275.0,842.2 L276.1,840.4 L277.2,838.4 L278.4,836.3 L279.5,834.2 L280.6,831.9 L281.7,829.5 L282.8,826.9 L283.9,824.3 L285.0,821.6 L286.1,818.8 L287.2,815.9 L288.3,813.0 L289.5,809.9 L290.6,806.9 L291.7,803.7 L292.8,800.5 L293.9,797.3 L295.0,794.1 L296.1,790.9 L297.2,787.7 L298.3,784.6 L299.4,781.5 L300.5,778.4 L301.7,775.4 L302.8,772.6 L303.9,769.8 L305.0,767.2 L306.1,764.7 L307.2,762.4 L308.3,760.3 L309.4,758.3 L310.5,756.5 L311.6,755.0 L312.8,753.7 L313.9,752.6 L315.0,751.7 L316.1,751.1 L317.2,750.7 L318.3,750.6 L319.4,750.7 L320.5,751.1 L321.6,751.7 L322.7,752.6 L323.8,753.7 L325.0,755.0 L326.1,756.5 L327.2,758.3 L328.3,760.3 L329.4,762.4 L330.5,764.7 L331.6,767.2 L332.7,769.8 L333.8,772.6 L334.9,775.4 L336.1,778.4 L337.2,781.5 L338.3,784.6 L339.4,787.7 L340.5,790.9 L341.6,794.1 L342.7,797.3 L343.8,800.5 L344.9,803.7 L346.0,806.9 L347.1,809.9 L348.3,813.0 L349.4,815.9 L350.5,818.8 L351.6,821.6 L352.7,824.3 L353.8,826.9 L354.9,829.5 L356.0,831.9 L357.1,834.2 L358.2,836.3 L359.4,838.4 L360.5,840.4 L361.6,842.2 L362.7,844.0 L363.8,845.6 L364.9,847.1 L366.0,848.5 L367.1,849.9 L368.2,851.1 L369.3,852.2 L370.4,853.3 L371.6,854.2 L372.7,855.1 L373.8,855.9 L374.9,856.7 L376.0,857.4 L377.1,858.0 L378.2,858.5 L379.3,859.0 L380.4,859.5 L381.5,859.9 L382.7,860.2 L383.8,860.6 L384.9,860.9 L386.0,861.1 L387.1,861.3 L388.2,861.5 L389.3,861.7 L390.4,861.9 L391.5,862.0 L392.6,862.1 L393.7,862.2 L394.9,862.3 L396.0,862.4 L397.1,862.5 L398.2,862.5 L399.3,862.6 L400.4,862.6 L401.5,862.7 L402.6,862.7 L403.7,862.7 L404.8,862.8 L406.0,862.8 L407.1,862.8 L408.2,862.8 L409.3,862.8 L410.4,862.8 L411.5,862.9 L412.6,862.9 L413.7,862.9 L414.8,862.9" fill="none" stroke="#22dd55" stroke-width="2.0"/>
<path d="M239.5,862.9 L240.6,862.9 L241.7,862.9 L242.9,862.9 L244.0,862.9 L245.1,862.9 L246.2,862.9 L247.3,862.9 L248.4,862.9 L249.5,862.9 L250.6,862.9 L251.7,862.9 L252.8,862.9 L254.0,862.9 L255.1,862.9 L256.2,862.9 L257.3,862.9 L258.4,862.9 L259.5,862.9 L260.6,862.9 L261.7,862.9 L262.8,862.9 L263.9,862.9 L265.0,862.8 L266.2,862.8 L267.3,862.8 L268.4,862.8 L269.5,862.8 L270.6,862.7 L271.7,862.7 L272.8,862.6 L273.9,862.6 L275.0,862.5 L276.1,862.4 L277.2,862.3 L278.4,862.2 L279.5,862.0 L280.6,861.8 L281.7,861.6 L282.8,861.4 L283.9,861.1 L285.0,860.8 L286.1,860.4 L287.2,859.9 L288.3,859.4 L289.5,858.8 L290.6,858.1 L291.7,857.3 L292.8,856.5 L293.9,855.5 L295.0,854.3 L296.1,853.1 L297.2,851.6 L298.3,850.0 L299.4,848.3 L300.5,846.3 L301.7,844.1 L302.8,841.7 L303.9,839.1 L305.0,836.3 L306.1,833.2 L307.2,829.8 L308.3,826.2 L309.4,822.3 L310.5,818.1 L311.6,813.7 L312.8,809.0 L313.9,804.0 L315.0,798.8 L316.1,793.4 L317.2,787.7 L318.3,781.8 L319.4,775.7 L320.5,769.5 L321.6,763.1 L322.7,756.6 L323.8,750.1 L325.0,743.5 L326.1,737.0 L327.2,730.5 L328.3,724.2 L329.4,717.9 L330.5,711.9 L331.6,706.1 L332.7,700.6 L333.8,695.5 L334.9,690.7 L336.1,686.4 L337.2,682.5 L338.3,679.1 L339.4,676.2 L340.5,673.9 L341.6,672.2 L342.7,671.0 L343.8,670.5 L344.9,670.6 L346.0,671.2 L347.1,672.5 L348.3,674.3 L349.4,676.8 L350.5,679.7 L351.6,683.2 L352.7,687.2 L353.8,691.6 L354.9,696.5 L356.0,701.7 L357.1,707.3 L358.2,713.1 L359.4,719.2 L360.5,725.4 L361.6,731.8 L362.7,738.3 L363.8,744.9 L364.9,751.4 L366.0,757.9 L367.1,764.4 L368.2,770.7 L369.3,776.9 L370.4,783.0 L371.6,788.8 L372.7,794.5 L373.8,799.9 L374.9,805.1 L376.0,810.0 L377.1,814.6 L378.2,819.0 L379.3,823.1 L380.4,826.9 L381.5,830.5 L382.7,833.8 L383.8,836.9 L384.9,839.7 L386.0,842.2 L387.1,844.6 L388.2,846.7 L389.3,848.6 L390.4,850.4 L391.5,851.9 L392.6,853.3 L393.7,854.6 L394.9,855.7 L396.0,856.6 L397.1,857.5 L398.2,858.3 L399.3,858.9 L400.4,859.5 L401.5,860.0 L402.6,860.5 L403.7,860.8 L404.8,861.2 L406.0,861.4 L407.1,861.7 L408.2,861.9 L409.3,862.0 L410.4,862.2 L411.5,862.3 L412.6,862.4 L413.7,862.5 L414.8,862.6" fill="none" stroke="#5555cc" stroke-width="2.0"/>
<path d="M197.4,862.9 L198.5,862.9 L199.6,862.9 L200.7,862.9 L201.8,862.9 L202.9,862.9 L204.0,862.9 L205.1,862.9 L206.2,862.9 L207.4,862.9 L208.5,862.9 L209.6,862.9 L210.7,862.9 L211.8,862.9 L212.9,862.9 L214.0,862.9 L215.1,862.9 L216.2,862.9 L217.3,862.9 L218.4,862.9 L219.6,862.9 L220.7,862.9 L221.8,862.9 L222.9,862.9 L224.0,862.9 L225.1,862.9 L226.2,862.8 L227.3,862.8 L228.4,862.8 L229.5,862.8 L230.7,862.8 L231.8,862.8 L232.9,862.7 L234.0,862.7 L235.1,862.7 L236.2,862.6 L237.3,862.6 L238.4,862.6 L239.5,862.5 L240.6,862.4 L241.7,862.3 L242.9,862.3 L244.0,862.1 L245.1,862.0 L246.2,861.9 L247.3,861.7 L248.4,861.6 L249.5,861.4 L250.6,861.1 L251.7,860.9 L252.8,860.6 L254.0,860.3 L255.1,859.9 L256.2,859.5 L257.3,859.0 L258.4,858.5 L259.5,858.0 L260.6,857.4 L261.7,856.7 L262.8,856.0 L263.9,855.2 L265.0,854.3 L266.2,853.3 L267.3,852.2 L268.4,851.1 L269.5,849.8 L270.6,848.5 L271.7,847.1 L272.8,845.5 L273.9,843.8 L275.0,842.0 L276.1,840.1 L277.2,838.0 L278.4,835.9 L279.5,833.6 L280.6,831.1 L281.7,828.5 L282.8,825.8 L283.9,822.9 L285.0,819.9 L286.1,816.8 L287.2,813.5 L288.3,810.0 L289.5,806.4 L290.6,802.7 L291.7,798.8 L292.8,794.8 L293.9,790.6 L295.0,786.3 L296.1,781.9 L297.2,777.3 L298.3,772.6 L299.4,767.8 L300.5,762.8 L301.7,757.7 L302.8,752.5 L303.9,747.2 L305.0,741.8 L306.1,736.3 L307.2,730.6 L308.3,724.9 L309.4,719.1 L310.5,713.3 L311.6,707.4 L312.8,701.4 L313.9,695.4 L315.0,689.4 L316.1,683.4 L317.2,677.4 L318.3,671.4 L319.4,665.5 L320.5,659.7 L321.6,654.0 L322.7,648.5 L323.8,643.1 L325.0,637.9 L326.1,633.0 L327.2,628.3 L328.3,623.9 L329.4,619.9 L330.5,616.2 L331.6,613.0 L332.7,610.1 L333.8,607.8 L334.9,605.9 L336.1,604.5 L337.2,603.7 L338.3,603.4 L339.4,603.7 L340.5,604.6 L341.6,606.0 L342.7,608.1 L343.8,610.7 L344.9,613.9 L346.0,617.7 L347.1,622.0 L348.3,626.8 L349.4,632.1 L350.5,637.9 L351.6,644.2 L352.7,650.8 L353.8,657.8 L354.9,665.0 L356.0,672.6 L357.1,680.4 L358.2,688.3 L359.4,696.4 L360.5,704.5 L361.6,712.7 L362.7,720.8 L363.8,728.9 L364.9,736.9 L366.0,744.8 L367.1,752.5 L368.2,760.0 L369.3,767.2 L370.4,774.3 L371.6,781.0 L372.7,787.5 L373.8,793.6 L374.9,799.5 L376.0,805.0 L377.1,810.2 L378.2,815.1 L379.3,819.6 L380.4,823.9 L381.5,827.8 L382.7,831.5 L383.8,834.8 L384.9,837.9 L386.0,840.7 L387.1,843.2 L388.2,845.5 L389.3,847.6 L390.4,849.5 L391.5,851.2 L392.6,852.7 L393.7,854.0 L394.9,855.2 L396.0,856.2 L397.1,857.2 L398.2,858.0 L399.3,858.7 L400.4,859.3 L401.5,859.8 L402.6,860.3 L403.7,860.7 L404.8,861.0 L406.0,861.3 L407.1,861.6 L408.2,861.8 L409.3,862.0 L410.4,862.1 L411.5,862.3 L412.6,862.4 L413.7,862.5 L414.8,862.6 L415.9,862.6 L417.0,862.7 L418.2,862.7 L419.3,862.7 L420.4,862.8 L421.5,862.8 L422.6,862.8 L423.7,862.8 L424.8,862.8 L425.9,862.9 L427.0,862.9 L428.1,862.9 L429.3,862.9 L430.4,862.9 L431.5,862.9 L432.6,862.9 L433.7,862.9 L434.8,862.9 L435.9,862.9 L437.0,862.9 L438.1,862.9 L439.2,862.9 L440.3,862.9 L441.5,862.9 L442.6,862.9 L443.7,862.9 L444.8,862.9 L445.9,862.9 L447.0,862.9 L448.1,862.9 L449.2,862.9 L450.3,862.9 L451.4,862.9 L452.6,862.9 L453.7,862.9 L454.8,862.9 L455.9,862.9 L457.0,862.9 L458.1,862.9 L459.2,862.9 L460.3,862.9 L461.4,862.9 L462.5,862.9 L463.6,862.9 L464.8,862.9 L465.9,862.9 L467.0,862.9 L468.1,862.9 L469.2,862.9 L470.3,862.9 L471.4,862.9 L472.5,862.9 L473.6,862.9 L474.7,862.9 L475.9,862.9 L477.0,862.9 L478.1,862.9 L479.2,862.9 L480.3,862.9 L481.4,862.9 L482.5,862.9 L483.6,862.9 L484.7,862.9 L485.8,862.9 L486.9,862.9 L488.1,862.9 L489.2,862.9 L490.3,862.9 L491.4,862.9 L492.5,862.9 L493.6,862.9 L494.7,862.9 L495.8,862.9 L496.9,862.9 L498.0,862.9 L499.1,862.9 L500.3,862.9 L501.4,862.9 L502.5,862.9 L503.6,862.9 L504.7,862.9 L505.8,862.9 L506.9,862.9 L508.0,862.9 L509.1,862.9 L510.2,862.9 L511.4,862.9 L512.5,862.9 L513.6,862.9 L514.7,862.9 L515.8,862.9 L516.9,862.9 L518.0,862.9 L519.1,862.9 L520.2,862.9 L521.3,862.9 L522.4,862.9 L523.6,862.9 L524.7,862.9 L525.8,862.9 L526.9,862.9 L528.0,862.9 L529.1,862.9 L530.2,862.9 L531.3,862.9 L532.4,862.9 L533.5,862.9 L534.7,862.9 L535.8,862.9 L536.9,862.9 L538.0,862.9 L539.1,862.9 L540.2,862.9 L541.3,862.9 L542.4,862.9 L543.5,862.9 L544.6,862.9 L545.7,862.9 L546.9,862.9 L548.0,862.9 L549.1,862.9 L550.2,862.9 L551.3,862.9 L552.4,862.9 L553.5,862.9 L554.6,862.9 L555.7,862.9 L556.8,862.9 L558.0,862.9 L559.1,862.9 L560.2,862.9 L561.3,862.9 L562.4,862.9 L563.5,862.9 L564.6,862.9 L565.7,862.9 L566.8,862.9 L567.9,862.9 L569.0,862.9 L570.2,862.9 L571.3,862.9 L572.4,862.9 L573.5,862.9 L574.6,862.9 L575.7,862.9 L576.8,862.9 L577.9,862.9 L579.0,862.9 L580.1,862.9 L581.3,862.9 L582.4,862.9 L583.5,862.9 L584.6,862.9 L585.7,862.9 L586.8,862.9 L587.9,862.9 L589.0,862.9 L590.1,862.9 L591.2,862.9 L592.3,862.9 L593.5,862.9 L594.6,862.9 L595.7,862.9 L596.8,862.9 L597.9,862.9 L599.0,862.9 L600.1,862.9 L601.2,862.9 L602.3,862.9 L603.4,862.9 L604.6,862.9 L605.7,862.9 L606.8,862.9 L607.9,862.9 L609.0,862.9 L610.1,862.9 L611.2,862.9 L612.3,862.9 L613.4,862.9 L614.5,862.9 L615.6,862.9 L616.8,862.9 L617.9,862.9 L619.0,862.9 L620.1,862.9 L621.2,862.9 L622.3,862.9 L623.4,862.9 L624.5,862.9 L625.6,862.9 L626.7,862.9 L627.9,862.9 L629.0,862.9 L630.1,862.9 L631.2,862.9 L632.3,862.9 L633.4,862.9 L634.5,862.9 L635.6,862.9 L636.7,862.9 L637.8,862.9 L638.9,862.9 L640.1,862.9 L641.2,862.9" fill="none" stroke="#e86464" stroke-width="2.8"/>
<path d="M197.4,862.8 L198.5,863.0 L199.6,863.4 L200.7,862.9 L201.8,862.9 L202.9,863.0 L204.0,862.5 L205.1,862.9 L206.2,863.1 L207.4,863.2 L208.5,862.4 L209.6,862.7 L210.7,862.4 L211.8,863.3 L212.9,863.1 L214.0,862.3 L215.1,863.5 L216.2,863.4 L217.3,863.1 L218.4,863.0 L219.6,862.5 L220.7,862.3 L221.8,862.9 L222.9,862.3 L224.0,862.5 L225.1,862.5 L226.2,862.3 L227.3,862.8 L228.4,862.8 L229.5,863.2 L230.7,862.8 L231.8,862.9 L232.9,862.7 L234.0,862.9 L235.1,862.6 L236.2,862.4 L237.3,863.2 L238.4,863.1 L239.5,862.9 L240.6,862.7 L241.7,862.1 L242.9,861.9 L244.0,861.9 L245.1,861.5 L246.2,862.2 L247.3,861.6 L248.4,862.0 L249.5,861.2 L250.6,861.7 L251.7,861.3 L252.8,860.0 L254.0,859.9 L255.1,860.4 L256.2,859.5 L257.3,859.6 L258.4,858.4 L259.5,857.5 L260.6,857.5 L261.7,857.0 L262.8,855.7 L263.9,854.7 L265.0,854.1 L266.2,853.9 L267.3,852.6 L268.4,850.6 L269.5,849.5 L270.6,848.0 L271.7,846.5 L272.8,845.8 L273.9,843.4 L275.0,842.1 L276.1,840.0 L277.2,837.7 L278.4,836.2 L279.5,833.1 L280.6,831.3 L281.7,828.1 L282.8,825.7 L283.9,822.6 L285.0,819.6 L286.1,817.3 L287.2,813.8 L288.3,809.8 L289.5,806.9 L290.6,802.3 L291.7,798.7 L292.8,795.2 L293.9,790.8 L295.0,785.8 L296.1,782.5 L297.2,777.0 L298.3,772.3 L299.4,768.1 L300.5,762.6 L301.7,757.5 L302.8,752.0 L303.9,746.7 L305.0,741.9 L306.1,736.0 L307.2,730.8 L308.3,724.8 L309.4,719.1 L310.5,713.8 L311.6,707.3 L312.8,701.5 L313.9,695.8 L315.0,689.0 L316.1,682.9 L317.2,677.8 L318.3,671.8 L319.4,665.2 L320.5,659.3 L321.6,654.3 L322.7,649.0 L323.8,642.7 L325.0,638.4 L326.1,633.4 L327.2,628.4 L328.3,623.8 L329.4,619.4 L330.5,615.7 L331.6,613.5 L332.7,609.8 L333.8,608.0 L334.9,605.6 L336.1,604.9 L337.2,603.8 L338.3,603.1 L339.4,603.3 L340.5,604.8 L341.6,605.5 L342.7,607.7 L343.8,610.8 L344.9,614.3 L346.0,617.8 L347.1,621.7 L348.3,627.3 L349.4,631.8 L350.5,637.4 L351.6,643.9 L352.7,650.7 L353.8,657.2 L354.9,664.7 L356.0,672.4 L357.1,680.4 L358.2,687.9 L359.4,696.2 L360.5,705.0 L361.6,713.2 L362.7,721.0 L363.8,729.1 L364.9,737.0 L366.0,744.3 L367.1,751.9 L368.2,759.4 L369.3,767.7 L370.4,774.5 L371.6,781.6 L372.7,786.9 L373.8,793.8 L374.9,799.5 L376.0,805.3 L377.1,810.0 L378.2,815.7 L379.3,819.1 L380.4,823.9 L381.5,828.1 L382.7,831.9 L383.8,835.1 L384.9,838.1 L386.0,841.0 L387.1,843.7 L388.2,845.3 L389.3,847.8 L390.4,850.0 L391.5,851.6 L392.6,852.1 L393.7,855.0 L394.9,857.6 L396.0,859.9 L397.1,862.4" fill="none" stroke="#4a1a1a" stroke-width="1.8" stroke-dasharray="3 3"/>
<rect x="175.2" y="552.1" width="122.2" height="102.9" fill="#fff" stroke="#404040" stroke-width="2"/>
<line x1="175.2" y1="566.0" x2="216.4" y2="566.0" stroke="#333" stroke-width="2.4"/>
<text x="221.5" y="571.6" font-family="Liberation Sans" font-size="19.5" font-weight="normal" text-anchor="start" fill="#1a1a1a" textLength="72.0" lengthAdjust="spacingAndGlyphs" stroke="#1a1a1a" stroke-width="0.4" >Raw data</text>
<line x1="175.2" y1="590.6" x2="216.4" y2="590.6" stroke="#5555cc" stroke-width="3.2"/>
<text x="221.5" y="596.2" font-family="Liberation Sans" font-size="19.5" font-weight="normal" text-anchor="start" fill="#1a1a1a" textLength="37.5" lengthAdjust="spacingAndGlyphs" stroke="#1a1a1a" stroke-width="0.4" >O=C</text>
<line x1="175.2" y1="616.6" x2="216.4" y2="616.6" stroke="#22dd55" stroke-width="3.2"/>
<text x="221.5" y="622.2" font-family="Liberation Sans" font-size="19.5" font-weight="normal" text-anchor="start" fill="#1a1a1a" textLength="32.4" lengthAdjust="spacingAndGlyphs" stroke="#1a1a1a" stroke-width="0.4" >O-C</text>
<line x1="175.2" y1="641.0" x2="216.4" y2="641.0" stroke="#e85858" stroke-width="3.2"/>
<text x="221.5" y="646.6" font-family="Liberation Sans" font-size="19.5" font-weight="normal" text-anchor="start" fill="#1a1a1a" textLength="47.3" lengthAdjust="spacingAndGlyphs" stroke="#1a1a1a" stroke-width="0.4" >Fitting</text>
<rect x="879.4" y="534.3" width="524.7" height="389.5" fill="none" stroke="#111" stroke-width="2.6"/>
<line x1="879.4" y1="914.6" x2="883.9" y2="914.6" stroke="#111" stroke-width="2.6"/>
<line x1="1399.6" y1="914.6" x2="1404.1" y2="914.6" stroke="#111" stroke-width="2.6"/>
<line x1="879.4" y1="819.5" x2="883.9" y2="819.5" stroke="#111" stroke-width="2.6"/>
<line x1="1399.6" y1="819.5" x2="1404.1" y2="819.5" stroke="#111" stroke-width="2.6"/>
<line x1="879.4" y1="724.4" x2="883.9" y2="724.4" stroke="#111" stroke-width="2.6"/>
<line x1="1399.6" y1="724.4" x2="1404.1" y2="724.4" stroke="#111" stroke-width="2.6"/>
<line x1="879.4" y1="629.3" x2="883.9" y2="629.3" stroke="#111" stroke-width="2.6"/>
<line x1="1399.6" y1="629.3" x2="1404.1" y2="629.3" stroke="#111" stroke-width="2.6"/>
<line x1="879.4" y1="534.2" x2="883.9" y2="534.2" stroke="#111" stroke-width="2.6"/>
<line x1="1399.6" y1="534.2" x2="1404.1" y2="534.2" stroke="#111" stroke-width="2.6"/>
<line x1="879.4" y1="867.1" x2="881.9" y2="867.1" stroke="#111" stroke-width="2.6"/>
<line x1="1401.6" y1="867.1" x2="1404.1" y2="867.1" stroke="#111" stroke-width="2.6"/>
<line x1="879.4" y1="772.0" x2="881.9" y2="772.0" stroke="#111" stroke-width="2.6"/>
<line x1="1401.6" y1="772.0" x2="1404.1" y2="772.0" stroke="#111" stroke-width="2.6"/>
<line x1="879.4" y1="676.9" x2="881.9" y2="676.9" stroke="#111" stroke-width="2.6"/>
<line x1="1401.6" y1="676.9" x2="1404.1" y2="676.9" stroke="#111" stroke-width="2.6"/>
<line x1="879.4" y1="581.8" x2="881.9" y2="581.8" stroke="#111" stroke-width="2.6"/>
<line x1="1401.6" y1="581.8" x2="1404.1" y2="581.8" stroke="#111" stroke-width="2.6"/>
<line x1="879.4" y1="918.3" x2="879.4" y2="923.8" stroke="#111" stroke-width="2.6"/>
<text x="879.4" y="945.7" font-family="Liberation Sans" font-size="16" font-weight="normal" text-anchor="middle" fill="#222" textLength="23.5" lengthAdjust="spacingAndGlyphs" stroke="#222" stroke-width="0.35" >290</text>
<line x1="984.3" y1="918.3" x2="984.3" y2="923.8" stroke="#111" stroke-width="2.6"/>
<text x="984.3" y="945.7" font-family="Liberation Sans" font-size="16" font-weight="normal" text-anchor="middle" fill="#222" textLength="23.5" lengthAdjust="spacingAndGlyphs" stroke="#222" stroke-width="0.35" >288</text>
<line x1="1089.3" y1="918.3" x2="1089.3" y2="923.8" stroke="#111" stroke-width="2.6"/>
<text x="1089.3" y="945.7" font-family="Liberation Sans" font-size="16" font-weight="normal" text-anchor="middle" fill="#222" textLength="23.5" lengthAdjust="spacingAndGlyphs" stroke="#222" stroke-width="0.35" >286</text>
<line x1="1194.2" y1="918.3" x2="1194.2" y2="923.8" stroke="#111" stroke-width="2.6"/>
<text x="1194.2" y="945.7" font-family="Liberation Sans" font-size="16" font-weight="normal" text-anchor="middle" fill="#222" textLength="23.5" lengthAdjust="spacingAndGlyphs" stroke="#222" stroke-width="0.35" >284</text>
<line x1="1299.2" y1="918.3" x2="1299.2" y2="923.8" stroke="#111" stroke-width="2.6"/>
<text x="1299.2" y="945.7" font-family="Liberation Sans" font-size="16" font-weight="normal" text-anchor="middle" fill="#222" textLength="23.5" lengthAdjust="spacingAndGlyphs" stroke="#222" stroke-width="0.35" >282</text>
<line x1="1404.1" y1="918.3" x2="1404.1" y2="923.8" stroke="#111" stroke-width="2.6"/>
<text x="1404.1" y="945.7" font-family="Liberation Sans" font-size="16" font-weight="normal" text-anchor="middle" fill="#222" textLength="23.5" lengthAdjust="spacingAndGlyphs" stroke="#222" stroke-width="0.35" >280</text>
<line x1="931.9" y1="921.3" x2="931.9" y2="923.8" stroke="#111" stroke-width="2.6"/>
<line x1="1036.8" y1="921.3" x2="1036.8" y2="923.8" stroke="#111" stroke-width="2.6"/>
<line x1="1141.8" y1="921.3" x2="1141.8" y2="923.8" stroke="#111" stroke-width="2.6"/>
<line x1="1246.7" y1="921.3" x2="1246.7" y2="923.8" stroke="#111" stroke-width="2.6"/>
<line x1="1351.6" y1="921.3" x2="1351.6" y2="923.8" stroke="#111" stroke-width="2.6"/>
<text x="871.4" y="918.8" font-family="Liberation Sans" font-size="15" font-weight="normal" text-anchor="end" fill="#222" stroke="#222" stroke-width="0.3" >0</text>
<text x="864.8" y="825.7" font-family="Liberation Sans" font-size="15.5" font-weight="normal" text-anchor="end" fill="#222" textLength="29.5" lengthAdjust="spacingAndGlyphs" stroke="#222" stroke-width="0.3" >1x10</text>
<text x="865.6" y="818.5" font-family="Liberation Sans" font-size="9.5" font-weight="normal" text-anchor="start" fill="#222" stroke="#222" stroke-width="0.2" >4</text>
<text x="864.8" y="730.6" font-family="Liberation Sans" font-size="15.5" font-weight="normal" text-anchor="end" fill="#222" textLength="29.5" lengthAdjust="spacingAndGlyphs" stroke="#222" stroke-width="0.3" >2x10</text>
<text x="865.6" y="723.4" font-family="Liberation Sans" font-size="9.5" font-weight="normal" text-anchor="start" fill="#222" stroke="#222" stroke-width="0.2" >4</text>
<text x="864.8" y="635.5" font-family="Liberation Sans" font-size="15.5" font-weight="normal" text-anchor="end" fill="#222" textLength="29.5" lengthAdjust="spacingAndGlyphs" stroke="#222" stroke-width="0.3" >3x10</text>
<text x="865.6" y="628.3" font-family="Liberation Sans" font-size="9.5" font-weight="normal" text-anchor="start" fill="#222" stroke="#222" stroke-width="0.2" >4</text>
<text x="864.8" y="540.4" font-family="Liberation Sans" font-size="15.5" font-weight="normal" text-anchor="end" fill="#222" textLength="29.5" lengthAdjust="spacingAndGlyphs" stroke="#222" stroke-width="0.3" >4x10</text>
<text x="865.6" y="533.2" font-family="Liberation Sans" font-size="9.5" font-weight="normal" text-anchor="start" fill="#222" stroke="#222" stroke-width="0.2" >4</text>
<text x="1140.4" y="973.3" font-family="Liberation Sans" font-size="14.5" font-weight="normal" text-anchor="middle" fill="#1a1a1a" textLength="126.7" lengthAdjust="spacingAndGlyphs" stroke="#1a1a1a" stroke-width="0.35" >Binding Energy (eV)</text>
<text x="0.0" y="0.0" font-family="Liberation Sans" font-size="14.5" font-weight="normal" text-anchor="middle" fill="#1a1a1a" textLength="101.0" lengthAdjust="spacingAndGlyphs" stroke="#1a1a1a" stroke-width="0.35" transform="translate(825.3,717.7) rotate(-90)">Intensity (a.u)</text>
<path d="M879.4,913.8 L880.4,913.7 L881.4,913.7 L882.4,913.6 L883.4,913.5 L884.4,913.5 L885.4,913.4 L886.4,913.4 L887.4,913.3 L888.4,913.2 L889.4,913.2 L890.4,913.1 L891.4,913.0 L892.4,912.9 L893.4,912.8 L894.4,912.7 L895.4,912.6 L896.4,912.5 L897.4,912.4 L898.4,912.3 L899.4,912.2 L900.4,912.1 L901.4,911.9 L902.4,911.8 L903.4,911.7 L904.4,911.5 L905.4,911.4 L906.4,911.2 L907.4,911.1 L908.4,910.9 L909.4,910.7 L910.4,910.5 L911.4,910.3 L912.4,910.1 L913.4,909.9 L914.4,909.7 L915.4,909.5 L916.4,909.3 L917.4,909.0 L918.4,908.8 L919.4,908.5 L920.4,908.2 L921.4,908.0 L922.4,907.7 L923.4,907.4 L924.4,907.1 L925.4,906.7 L926.4,906.4 L927.4,906.1 L928.4,905.7 L929.4,905.3 L930.4,905.0 L931.4,904.6 L932.4,904.2 L933.4,903.7 L934.4,903.3 L935.4,902.9 L936.4,902.4 L937.4,901.9 L938.4,901.4 L939.4,900.9 L940.4,900.4 L941.4,899.9 L942.4,899.3 L943.4,898.8 L944.4,898.2 L945.4,897.6 L946.4,897.0 L947.4,896.4 L948.4,895.7 L949.4,895.1 L950.4,894.4 L951.4,893.7 L952.4,893.0 L953.4,892.3 L954.4,891.5 L955.4,890.7 L956.4,890.0 L957.4,889.2 L958.4,888.3 L959.4,887.5 L960.4,886.6 L961.4,885.8 L962.4,884.9 L963.4,884.0 L964.4,883.0 L965.4,882.1 L966.4,881.1 L967.4,880.1 L968.4,879.1 L969.4,878.1 L970.4,877.1 L971.4,876.0 L972.4,874.9 L973.4,873.9 L974.4,872.7 L975.4,871.6 L976.4,870.5 L977.4,869.3 L978.4,868.1 L979.4,866.9 L980.4,865.7 L981.4,864.5 L982.4,863.3 L983.4,862.0 L984.4,860.7 L985.4,859.5 L986.4,858.2 L987.4,856.9 L988.4,855.5 L989.4,854.2 L990.4,852.9 L991.4,851.5 L992.4,850.1 L993.4,848.8 L994.4,847.4 L995.4,846.0 L996.4,844.6 L997.4,843.2 L998.4,841.8 L999.4,840.4 L1000.4,838.9 L1001.4,837.5 L1002.4,836.1 L1003.4,834.6 L1004.4,833.2 L1005.4,831.8 L1006.4,830.3 L1007.4,828.9 L1008.4,827.5 L1009.4,826.0 L1010.4,824.6 L1011.4,823.2 L1012.4,821.8 L1013.4,820.4 L1014.4,819.0 L1015.4,817.6 L1016.4,816.2 L1017.4,814.8 L1018.4,813.5 L1019.4,812.1 L1020.4,810.8 L1021.4,809.4 L1022.4,808.1 L1023.4,806.9 L1024.4,805.6 L1025.4,804.3 L1026.4,803.1 L1027.4,801.9 L1028.4,800.7 L1029.4,799.5 L1030.4,798.4 L1031.4,797.2 L1032.4,796.1 L1033.4,795.1 L1034.4,794.0 L1035.4,793.0 L1036.4,792.0 L1037.4,791.1 L1038.4,790.1 L1039.4,789.2 L1040.4,788.4 L1041.4,787.5 L1042.4,786.7 L1043.4,786.0 L1044.4,785.2 L1045.4,784.5 L1046.4,783.9 L1047.4,783.2 L1048.4,782.6 L1049.4,782.1 L1050.4,781.6 L1051.4,781.1 L1052.4,780.7 L1053.4,780.3 L1054.4,779.9 L1055.4,779.6 L1056.4,779.3 L1057.4,779.1 L1058.4,778.9 L1059.4,778.7 L1060.4,778.6 L1061.4,778.5 L1062.4,778.5 L1063.4,778.5 L1064.4,778.6 L1065.4,778.7 L1066.4,778.8 L1067.4,779.0 L1068.4,779.2 L1069.4,779.4 L1070.4,779.7 L1071.4,780.1 L1072.4,780.4 L1073.4,780.8 L1074.4,781.3 L1075.4,781.8 L1076.4,782.3 L1077.4,782.9 L1078.4,783.5 L1079.4,784.1 L1080.4,784.8 L1081.4,785.5 L1082.4,786.3 L1083.4,787.0 L1084.4,787.9 L1085.4,788.7 L1086.4,789.6 L1087.4,790.5 L1088.4,791.4 L1089.4,792.4 L1090.4,793.4 L1091.4,794.4 L1092.4,795.5 L1093.4,796.6 L1094.4,797.7 L1095.4,798.8 L1096.4,800.0 L1097.4,801.2 L1098.4,802.4 L1099.4,803.6 L1100.4,804.8 L1101.4,806.1 L1102.4,807.4 L1103.4,808.7 L1104.4,810.0 L1105.4,811.3 L1106.4,812.6 L1107.4,814.0 L1108.4,815.4 L1109.4,816.7 L1110.4,818.1 L1111.4,819.5 L1112.4,820.9 L1113.4,822.3 L1114.4,823.8 L1115.4,825.2 L1116.4,826.6 L1117.4,828.0 L1118.4,829.5 L1119.4,830.9 L1120.4,832.3 L1121.4,833.8 L1122.4,835.2 L1123.4,836.6 L1124.4,838.1 L1125.4,839.5 L1126.4,840.9 L1127.4,842.3 L1128.4,843.7 L1129.4,845.2 L1130.4,846.5 L1131.4,847.9 L1132.4,849.3 L1133.4,850.7 L1134.4,852.1 L1135.4,853.4 L1136.4,854.7 L1137.4,856.1 L1138.4,857.4 L1139.4,858.7 L1140.4,860.0 L1141.4,861.3 L1142.4,862.5 L1143.4,863.8 L1144.4,865.0 L1145.4,866.2 L1146.4,867.4 L1147.4,868.6 L1148.4,869.8 L1149.4,870.9 L1150.4,872.1 L1151.4,873.2 L1152.4,874.3 L1153.4,875.4 L1154.4,876.4 L1155.4,877.5 L1156.4,878.5 L1157.4,879.5 L1158.4,880.5 L1159.4,881.5 L1160.4,882.5 L1161.4,883.4 L1162.4,884.3 L1163.4,885.2 L1164.4,886.1 L1165.4,887.0 L1166.4,887.8 L1167.4,888.7 L1168.4,889.5 L1169.4,890.3 L1170.4,891.0 L1171.4,891.8 L1172.4,892.5 L1173.4,893.3 L1174.4,894.0 L1175.4,894.7 L1176.4,895.3 L1177.4,896.0 L1178.4,896.6 L1179.4,897.2 L1180.4,897.9 L1181.4,898.4 L1182.4,899.0 L1183.4,899.6 L1184.4,900.1 L1185.4,900.6 L1186.4,901.1 L1187.4,901.6 L1188.4,902.1 L1189.4,902.6 L1190.4,903.0 L1191.4,903.5 L1192.4,903.9 L1193.4,904.3 L1194.4,904.7 L1195.4,905.1 L1196.4,905.5 L1197.4,905.8 L1198.4,906.2 L1199.4,906.5 L1200.4,906.9 L1201.4,907.2 L1202.4,907.5 L1203.4,907.8 L1204.4,908.1 L1205.4,908.3 L1206.4,908.6 L1207.4,908.9 L1208.4,909.1 L1209.4,909.3 L1210.4,909.6 L1211.4,909.8 L1212.4,910.0 L1213.4,910.2 L1214.4,910.4 L1215.4,910.6 L1216.4,910.8 L1217.4,911.0 L1218.4,911.1 L1219.4,911.3 L1220.4,911.4 L1221.4,911.6 L1222.4,911.7 L1223.4,911.9 L1224.4,912.0 L1225.4,912.1 L1226.4,912.2 L1227.4,912.3 L1228.4,912.5 L1229.4,912.6 L1230.4,912.7 L1231.4,912.8 L1232.4,912.9 L1233.4,912.9 L1234.4,913.0 L1235.4,913.1 L1236.4,913.2 L1237.4,913.3 L1238.4,913.3 L1239.4,913.4 L1240.4,913.5 L1241.4,913.5 L1242.4,913.6 L1243.4,913.6 L1244.4,913.7 L1245.4,913.7 L1246.4,913.8 L1247.4,913.8 L1248.4,913.9 L1249.4,913.9 L1250.4,913.9 L1251.4,914.0 L1252.4,914.0 L1253.4,914.0 L1254.4,914.1 L1255.4,914.1 L1256.4,914.1 L1257.4,914.2 L1258.4,914.2 L1259.4,914.2 L1260.4,914.2 L1261.4,914.3 L1262.4,914.3 L1263.4,914.3 L1264.4,914.3 L1265.4,914.3 L1266.4,914.3 L1267.4,914.4 L1268.4,914.4 L1269.4,914.4 L1270.4,914.4 L1271.4,914.4 L1272.4,914.4 L1273.4,914.4 L1274.4,914.4 L1275.4,914.5 L1276.4,914.5 L1277.4,914.5 L1278.4,914.5 L1279.4,914.5 L1280.4,914.5 L1281.4,914.5 L1282.4,914.5 L1283.4,914.5 L1284.4,914.5 L1285.4,914.5 L1286.4,914.5 L1287.4,914.5 L1288.4,914.5 L1289.4,914.5 L1290.4,914.5 L1291.4,914.6 L1292.4,914.6 L1293.4,914.6 L1294.4,914.6 L1295.4,914.6 L1296.4,914.6 L1297.4,914.6 L1298.4,914.6 L1299.4,914.6 L1300.4,914.6 L1301.4,914.6 L1302.4,914.6 L1303.4,914.6 L1304.4,914.6 L1305.4,914.6 L1306.4,914.6 L1307.4,914.6 L1308.4,914.6 L1309.4,914.6 L1310.4,914.6 L1311.4,914.6 L1312.4,914.6 L1313.4,914.6 L1314.4,914.6 L1315.4,914.6 L1316.4,914.6 L1317.4,914.6 L1318.4,914.6 L1319.4,914.6 L1320.4,914.6 L1321.4,914.6 L1322.4,914.6 L1323.4,914.6 L1324.4,914.6 L1325.4,914.6 L1326.4,914.6 L1327.4,914.6 L1328.4,914.6 L1329.4,914.6 L1330.4,914.6 L1331.4,914.6 L1332.4,914.6 L1333.4,914.6 L1334.4,914.6 L1335.4,914.6 L1336.4,914.6 L1337.4,914.6 L1338.4,914.6 L1339.4,914.6 L1340.4,914.6 L1341.4,914.6 L1342.4,914.6 L1343.4,914.6 L1344.4,914.6 L1345.4,914.6 L1346.4,914.6 L1347.4,914.6 L1348.4,914.6 L1349.4,914.6 L1350.4,914.6 L1351.4,914.6 L1352.4,914.6 L1353.4,914.6 L1354.4,914.6 L1355.4,914.6 L1356.4,914.6 L1357.4,914.6 L1358.4,914.6 L1359.4,914.6 L1360.4,914.6 L1361.4,914.6 L1362.4,914.6 L1363.4,914.6 L1364.4,914.6 L1365.4,914.6 L1366.4,914.6 L1367.4,914.6 L1368.4,914.6 L1369.4,914.6 L1370.4,914.6 L1371.4,914.6 L1372.4,914.6 L1373.4,914.6 L1374.4,914.6 L1375.4,914.6 L1376.4,914.6 L1377.4,914.6 L1378.4,914.6 L1379.4,914.6 L1380.4,914.6 L1381.4,914.6 L1382.4,914.6 L1383.4,914.6 L1384.4,914.6 L1385.4,914.6 L1386.4,914.6 L1387.4,914.6 L1388.4,914.6 L1389.4,914.6 L1390.4,914.6 L1391.4,914.6 L1392.4,914.6 L1393.4,914.6 L1394.4,914.6 L1395.4,914.6 L1396.4,914.6 L1397.4,914.6 L1398.4,914.6 L1399.4,914.6 L1400.4,914.6 L1401.4,914.6 L1402.4,914.6 L1403.4,914.6" fill="none" stroke="#f0a868" stroke-width="1.8"/>
<path d="M879.4,914.6 L880.4,914.6 L881.4,914.6 L882.4,914.6 L883.4,914.6 L884.4,914.6 L885.4,914.6 L886.4,914.6 L887.4,914.6 L888.4,914.6 L889.4,914.6 L890.4,914.6 L891.4,914.6 L892.4,914.6 L893.4,914.6 L894.4,914.6 L895.4,914.6 L896.4,914.6 L897.4,914.6 L898.4,914.6 L899.4,914.6 L900.4,914.6 L901.4,914.6 L902.4,914.6 L903.4,914.6 L904.4,914.6 L905.4,914.6 L906.4,914.6 L907.4,914.6 L908.4,914.6 L909.4,914.6 L910.4,914.6 L911.4,914.6 L912.4,914.6 L913.4,914.6 L914.4,914.6 L915.4,914.6 L916.4,914.6 L917.4,914.6 L918.4,914.6 L919.4,914.6 L920.4,914.6 L921.4,914.6 L922.4,914.6 L923.4,914.6 L924.4,914.6 L925.4,914.6 L926.4,914.6 L927.4,914.6 L928.4,914.6 L929.4,914.6 L930.4,914.6 L931.4,914.6 L932.4,914.6 L933.4,914.6 L934.4,914.6 L935.4,914.6 L936.4,914.6 L937.4,914.6 L938.4,914.6 L939.4,914.6 L940.4,914.6 L941.4,914.6 L942.4,914.6 L943.4,914.6 L944.4,914.6 L945.4,914.6 L946.4,914.6 L947.4,914.6 L948.4,914.6 L949.4,914.6 L950.4,914.6 L951.4,914.6 L952.4,914.6 L953.4,914.6 L954.4,914.6 L955.4,914.6 L956.4,914.6 L957.4,914.6 L958.4,914.6 L959.4,914.6 L960.4,914.6 L961.4,914.6 L962.4,914.6 L963.4,914.6 L964.4,914.6 L965.4,914.6 L966.4,914.6 L967.4,914.6 L968.4,914.6 L969.4,914.6 L970.4,914.6 L971.4,914.6 L972.4,914.6 L973.4,914.6 L974.4,914.6 L975.4,914.6 L976.4,914.6 L977.4,914.6 L978.4,914.6 L979.4,914.6 L980.4,914.6 L981.4,914.6 L982.4,914.6 L983.4,914.6 L984.4,914.6 L985.4,914.6 L986.4,914.6 L987.4,914.6 L988.4,914.6 L989.4,914.6 L990.4,914.6 L991.4,914.6 L992.4,914.6 L993.4,914.6 L994.4,914.6 L995.4,914.6 L996.4,914.6 L997.4,914.6 L998.4,914.6 L999.4,914.6 L1000.4,914.5 L1001.4,914.5 L1002.4,914.5 L1003.4,914.5 L1004.4,914.5 L1005.4,914.5 L1006.4,914.5 L1007.4,914.5 L1008.4,914.5 L1009.4,914.5 L1010.4,914.5 L1011.4,914.5 L1012.4,914.4 L1013.4,914.4 L1014.4,914.4 L1015.4,914.4 L1016.4,914.4 L1017.4,914.4 L1018.4,914.3 L1019.4,914.3 L1020.4,914.3 L1021.4,914.3 L1022.4,914.3 L1023.4,914.2 L1024.4,914.2 L1025.4,914.2 L1026.4,914.1 L1027.4,914.1 L1028.4,914.0 L1029.4,914.0 L1030.4,914.0 L1031.4,913.9 L1032.4,913.8 L1033.4,913.8 L1034.4,913.7 L1035.4,913.7 L1036.4,913.6 L1037.4,913.5 L1038.4,913.4 L1039.4,913.3 L1040.4,913.2 L1041.4,913.1 L1042.4,913.0 L1043.4,912.9 L1044.4,912.8 L1045.4,912.7 L1046.4,912.5 L1047.4,912.4 L1048.4,912.2 L1049.4,912.1 L1050.4,911.9 L1051.4,911.7 L1052.4,911.5 L1053.4,911.3 L1054.4,911.1 L1055.4,910.9 L1056.4,910.6 L1057.4,910.4 L1058.4,910.1 L1059.4,909.8 L1060.4,909.5 L1061.4,909.2 L1062.4,908.8 L1063.4,908.5 L1064.4,908.1 L1065.4,907.7 L1066.4,907.3 L1067.4,906.8 L1068.4,906.4 L1069.4,905.9 L1070.4,905.4 L1071.4,904.8 L1072.4,904.3 L1073.4,903.7 L1074.4,903.0 L1075.4,902.4 L1076.4,901.7 L1077.4,901.0 L1078.4,900.3 L1079.4,899.5 L1080.4,898.7 L1081.4,897.8 L1082.4,896.9 L1083.4,896.0 L1084.4,895.1 L1085.4,894.1 L1086.4,893.0 L1087.4,891.9 L1088.4,890.8 L1089.4,889.6 L1090.4,888.4 L1091.4,887.2 L1092.4,885.9 L1093.4,884.5 L1094.4,883.1 L1095.4,881.6 L1096.4,880.1 L1097.4,878.6 L1098.4,877.0 L1099.4,875.3 L1100.4,873.6 L1101.4,871.8 L1102.4,870.0 L1103.4,868.1 L1104.4,866.2 L1105.4,864.2 L1106.4,862.1 L1107.4,860.0 L1108.4,857.9 L1109.4,855.6 L1110.4,853.3 L1111.4,851.0 L1112.4,848.6 L1113.4,846.1 L1114.4,843.6 L1115.4,841.1 L1116.4,838.4 L1117.4,835.7 L1118.4,833.0 L1119.4,830.2 L1120.4,827.3 L1121.4,824.4 L1122.4,821.5 L1123.4,818.5 L1124.4,815.4 L1125.4,812.3 L1126.4,809.2 L1127.4,806.0 L1128.4,802.7 L1129.4,799.4 L1130.4,796.1 L1131.4,792.7 L1132.4,789.3 L1133.4,785.9 L1134.4,782.5 L1135.4,779.0 L1136.4,775.4 L1137.4,771.9 L1138.4,768.3 L1139.4,764.8 L1140.4,761.2 L1141.4,757.6 L1142.4,754.0 L1143.4,750.3 L1144.4,746.7 L1145.4,743.1 L1146.4,739.5 L1147.4,735.9 L1148.4,732.3 L1149.4,728.7 L1150.4,725.2 L1151.4,721.7 L1152.4,718.2 L1153.4,714.7 L1154.4,711.3 L1155.4,707.9 L1156.4,704.5 L1157.4,701.2 L1158.4,698.0 L1159.4,694.8 L1160.4,691.6 L1161.4,688.6 L1162.4,685.6 L1163.4,682.6 L1164.4,679.8 L1165.4,677.0 L1166.4,674.3 L1167.4,671.7 L1168.4,669.2 L1169.4,666.7 L1170.4,664.4 L1171.4,662.1 L1172.4,660.0 L1173.4,658.0 L1174.4,656.0 L1175.4,654.2 L1176.4,652.5 L1177.4,650.9 L1178.4,649.4 L1179.4,648.1 L1180.4,646.9 L1181.4,645.7 L1182.4,644.8 L1183.4,643.9 L1184.4,643.2 L1185.4,642.5 L1186.4,642.1 L1187.4,641.7 L1188.4,641.5 L1189.4,641.4 L1190.4,641.4 L1191.4,641.6 L1192.4,641.9 L1193.4,642.4 L1194.4,643.0 L1195.4,643.8 L1196.4,644.6 L1197.4,645.7 L1198.4,646.8 L1199.4,648.1 L1200.4,649.5 L1201.4,651.0 L1202.4,652.7 L1203.4,654.5 L1204.4,656.4 L1205.4,658.5 L1206.4,660.6 L1207.4,662.9 L1208.4,665.2 L1209.4,667.7 L1210.4,670.3 L1211.4,673.0 L1212.4,675.7 L1213.4,678.6 L1214.4,681.5 L1215.4,684.5 L1216.4,687.7 L1217.4,690.8 L1218.4,694.1 L1219.4,697.4 L1220.4,700.8 L1221.4,704.2 L1222.4,707.7 L1223.4,711.2 L1224.4,714.8 L1225.4,718.4 L1226.4,722.0 L1227.4,725.7 L1228.4,729.4 L1229.4,733.1 L1230.4,736.9 L1231.4,740.6 L1232.4,744.4 L1233.4,748.1 L1234.4,751.9 L1235.4,755.7 L1236.4,759.4 L1237.4,763.2 L1238.4,766.9 L1239.4,770.6 L1240.4,774.3 L1241.4,778.0 L1242.4,781.6 L1243.4,785.2 L1244.4,788.8 L1245.4,792.3 L1246.4,795.9 L1247.4,799.3 L1248.4,802.7 L1249.4,806.1 L1250.4,809.4 L1251.4,812.7 L1252.4,815.9 L1253.4,819.1 L1254.4,822.2 L1255.4,825.3 L1256.4,828.3 L1257.4,831.3 L1258.4,834.1 L1259.4,837.0 L1260.4,839.7 L1261.4,842.4 L1262.4,845.1 L1263.4,847.7 L1264.4,850.2 L1265.4,852.7 L1266.4,855.0 L1267.4,857.4 L1268.4,859.6 L1269.4,861.8 L1270.4,864.0 L1271.4,866.1 L1272.4,868.1 L1273.4,870.1 L1274.4,872.0 L1275.4,873.8 L1276.4,875.6 L1277.4,877.3 L1278.4,879.0 L1279.4,880.6 L1280.4,882.1 L1281.4,883.6 L1282.4,885.0 L1283.4,886.4 L1284.4,887.8 L1285.4,889.1 L1286.4,890.3 L1287.4,891.5 L1288.4,892.6 L1289.4,893.7 L1290.4,894.8 L1291.4,895.8 L1292.4,896.8 L1293.4,897.7 L1294.4,898.6 L1295.4,899.4 L1296.4,900.2 L1297.4,901.0 L1298.4,901.8 L1299.4,902.5 L1300.4,903.1 L1301.4,903.8 L1302.4,904.4 L1303.4,905.0 L1304.4,905.5 L1305.4,906.0 L1306.4,906.5 L1307.4,907.0 L1308.4,907.5 L1309.4,907.9 L1310.4,908.3 L1311.4,908.7 L1312.4,909.0 L1313.4,909.4 L1314.4,909.7 L1315.4,910.0 L1316.4,910.3 L1317.4,910.6 L1318.4,910.8 L1319.4,911.1 L1320.4,911.3 L1321.4,911.5 L1322.4,911.7 L1323.4,911.9 L1324.4,912.1 L1325.4,912.3 L1326.4,912.4 L1327.4,912.6 L1328.4,912.7 L1329.4,912.8 L1330.4,913.0 L1331.4,913.1 L1332.4,913.2 L1333.4,913.3 L1334.4,913.4 L1335.4,913.5 L1336.4,913.6 L1337.4,913.6 L1338.4,913.7 L1339.4,913.8 L1340.4,913.8 L1341.4,913.9 L1342.4,913.9 L1343.4,914.0 L1344.4,914.0 L1345.4,914.1 L1346.4,914.1 L1347.4,914.2 L1348.4,914.2 L1349.4,914.2 L1350.4,914.3 L1351.4,914.3 L1352.4,914.3 L1353.4,914.3 L1354.4,914.4 L1355.4,914.4 L1356.4,914.4 L1357.4,914.4 L1358.4,914.4 L1359.4,914.4 L1360.4,914.5 L1361.4,914.5 L1362.4,914.5 L1363.4,914.5 L1364.4,914.5 L1365.4,914.5 L1366.4,914.5 L1367.4,914.5 L1368.4,914.5 L1369.4,914.5 L1370.4,914.5 L1371.4,914.5 L1372.4,914.6 L1373.4,914.6 L1374.4,914.6 L1375.4,914.6 L1376.4,914.6 L1377.4,914.6 L1378.4,914.6 L1379.4,914.6 L1380.4,914.6 L1381.4,914.6 L1382.4,914.6 L1383.4,914.6 L1384.4,914.6 L1385.4,914.6 L1386.4,914.6 L1387.4,914.6 L1388.4,914.6 L1389.4,914.6 L1390.4,914.6 L1391.4,914.6 L1392.4,914.6 L1393.4,914.6 L1394.4,914.6 L1395.4,914.6 L1396.4,914.6 L1397.4,914.6 L1398.4,914.6 L1399.4,914.6 L1400.4,914.6 L1401.4,914.6 L1402.4,914.6 L1403.4,914.6" fill="none" stroke="#e85858" stroke-width="1.7"/>
<path d="M879.4,914.6 L880.4,914.6 L881.4,914.6 L882.4,914.6 L883.4,914.6 L884.4,914.6 L885.4,914.6 L886.4,914.6 L887.4,914.6 L888.4,914.6 L889.4,914.6 L890.4,914.6 L891.4,914.6 L892.4,914.6 L893.4,914.6 L894.4,914.6 L895.4,914.6 L896.4,914.6 L897.4,914.6 L898.4,914.6 L899.4,914.6 L900.4,914.6 L901.4,914.6 L902.4,914.6 L903.4,914.6 L904.4,914.6 L905.4,914.6 L906.4,914.6 L907.4,914.6 L908.4,914.6 L909.4,914.6 L910.4,914.6 L911.4,914.6 L912.4,914.6 L913.4,914.6 L914.4,914.6 L915.4,914.6 L916.4,914.6 L917.4,914.6 L918.4,914.6 L919.4,914.6 L920.4,914.6 L921.4,914.6 L922.4,914.6 L923.4,914.6 L924.4,914.6 L925.4,914.6 L926.4,914.6 L927.4,914.6 L928.4,914.6 L929.4,914.6 L930.4,914.6 L931.4,914.6 L932.4,914.6 L933.4,914.6 L934.4,914.6 L935.4,914.6 L936.4,914.6 L937.4,914.6 L938.4,914.6 L939.4,914.6 L940.4,914.6 L941.4,914.6 L942.4,914.6 L943.4,914.6 L944.4,914.6 L945.4,914.6 L946.4,914.6 L947.4,914.6 L948.4,914.6 L949.4,914.6 L950.4,914.6 L951.4,914.6 L952.4,914.6 L953.4,914.6 L954.4,914.6 L955.4,914.6 L956.4,914.6 L957.4,914.6 L958.4,914.6 L959.4,914.6 L960.4,914.6 L961.4,914.6 L962.4,914.6 L963.4,914.6 L964.4,914.6 L965.4,914.6 L966.4,914.6 L967.4,914.6 L968.4,914.6 L969.4,914.6 L970.4,914.6 L971.4,914.6 L972.4,914.6 L973.4,914.6 L974.4,914.6 L975.4,914.6 L976.4,914.6 L977.4,914.6 L978.4,914.6 L979.4,914.6 L980.4,914.6 L981.4,914.6 L982.4,914.6 L983.4,914.6 L984.4,914.6 L985.4,914.6 L986.4,914.6 L987.4,914.6 L988.4,914.5 L989.4,914.5 L990.4,914.5 L991.4,914.5 L992.4,914.5 L993.4,914.5 L994.4,914.5 L995.4,914.5 L996.4,914.5 L997.4,914.5 L998.4,914.4 L999.4,914.4 L1000.4,914.4 L1001.4,914.4 L1002.4,914.4 L1003.4,914.3 L1004.4,914.3 L1005.4,914.3 L1006.4,914.2 L1007.4,914.2 L1008.4,914.1 L1009.4,914.1 L1010.4,914.0 L1011.4,914.0 L1012.4,913.9 L1013.4,913.9 L1014.4,913.8 L1015.4,913.7 L1016.4,913.6 L1017.4,913.5 L1018.4,913.4 L1019.4,913.3 L1020.4,913.2 L1021.4,913.1 L1022.4,912.9 L1023.4,912.8 L1024.4,912.6 L1025.4,912.5 L1026.4,912.3 L1027.4,912.1 L1028.4,911.9 L1029.4,911.6 L1030.4,911.4 L1031.4,911.1 L1032.4,910.9 L1033.4,910.6 L1034.4,910.2 L1035.4,909.9 L1036.4,909.5 L1037.4,909.2 L1038.4,908.8 L1039.4,908.3 L1040.4,907.9 L1041.4,907.4 L1042.4,906.9 L1043.4,906.4 L1044.4,905.8 L1045.4,905.2 L1046.4,904.6 L1047.4,903.9 L1048.4,903.2 L1049.4,902.5 L1050.4,901.7 L1051.4,900.9 L1052.4,900.1 L1053.4,899.2 L1054.4,898.3 L1055.4,897.3 L1056.4,896.3 L1057.4,895.3 L1058.4,894.2 L1059.4,893.1 L1060.4,892.0 L1061.4,890.8 L1062.4,889.6 L1063.4,888.3 L1064.4,887.0 L1065.4,885.6 L1066.4,884.2 L1067.4,882.8 L1068.4,881.4 L1069.4,879.9 L1070.4,878.3 L1071.4,876.7 L1072.4,875.1 L1073.4,873.5 L1074.4,871.9 L1075.4,870.2 L1076.4,868.5 L1077.4,866.7 L1078.4,865.0 L1079.4,863.2 L1080.4,861.4 L1081.4,859.6 L1082.4,857.8 L1083.4,856.0 L1084.4,854.1 L1085.4,852.3 L1086.4,850.5 L1087.4,848.7 L1088.4,846.9 L1089.4,845.1 L1090.4,843.3 L1091.4,841.5 L1092.4,839.8 L1093.4,838.1 L1094.4,836.4 L1095.4,834.7 L1096.4,833.1 L1097.4,831.6 L1098.4,830.1 L1099.4,828.6 L1100.4,827.2 L1101.4,825.8 L1102.4,824.5 L1103.4,823.3 L1104.4,822.1 L1105.4,821.0 L1106.4,820.0 L1107.4,819.0 L1108.4,818.2 L1109.4,817.4 L1110.4,816.6 L1111.4,816.0 L1112.4,815.5 L1113.4,815.0 L1114.4,814.6 L1115.4,814.3 L1116.4,814.1 L1117.4,814.0 L1118.4,814.0 L1119.4,814.1 L1120.4,814.2 L1121.4,814.5 L1122.4,814.8 L1123.4,815.3 L1124.4,815.8 L1125.4,816.4 L1126.4,817.1 L1127.4,817.8 L1128.4,818.7 L1129.4,819.6 L1130.4,820.6 L1131.4,821.7 L1132.4,822.8 L1133.4,824.0 L1134.4,825.3 L1135.4,826.6 L1136.4,828.0 L1137.4,829.5 L1138.4,831.0 L1139.4,832.5 L1140.4,834.1 L1141.4,835.7 L1142.4,837.4 L1143.4,839.1 L1144.4,840.8 L1145.4,842.6 L1146.4,844.3 L1147.4,846.1 L1148.4,847.9 L1149.4,849.8 L1150.4,851.6 L1151.4,853.4 L1152.4,855.2 L1153.4,857.1 L1154.4,858.9 L1155.4,860.7 L1156.4,862.5 L1157.4,864.3 L1158.4,866.0 L1159.4,867.8 L1160.4,869.5 L1161.4,871.2 L1162.4,872.9 L1163.4,874.5 L1164.4,876.1 L1165.4,877.7 L1166.4,879.2 L1167.4,880.8 L1168.4,882.2 L1169.4,883.7 L1170.4,885.1 L1171.4,886.4 L1172.4,887.8 L1173.4,889.1 L1174.4,890.3 L1175.4,891.5 L1176.4,892.7 L1177.4,893.8 L1178.4,894.9 L1179.4,895.9 L1180.4,896.9 L1181.4,897.9 L1182.4,898.8 L1183.4,899.7 L1184.4,900.6 L1185.4,901.4 L1186.4,902.2 L1187.4,902.9 L1188.4,903.6 L1189.4,904.3 L1190.4,904.9 L1191.4,905.5 L1192.4,906.1 L1193.4,906.7 L1194.4,907.2 L1195.4,907.7 L1196.4,908.2 L1197.4,908.6 L1198.4,909.0 L1199.4,909.4 L1200.4,909.8 L1201.4,910.1 L1202.4,910.4 L1203.4,910.7 L1204.4,911.0 L1205.4,911.3 L1206.4,911.5 L1207.4,911.8 L1208.4,912.0 L1209.4,912.2 L1210.4,912.4 L1211.4,912.6 L1212.4,912.7 L1213.4,912.9 L1214.4,913.0 L1215.4,913.2 L1216.4,913.3 L1217.4,913.4 L1218.4,913.5 L1219.4,913.6 L1220.4,913.7 L1221.4,913.8 L1222.4,913.8 L1223.4,913.9 L1224.4,914.0 L1225.4,914.0 L1226.4,914.1 L1227.4,914.1 L1228.4,914.2 L1229.4,914.2 L1230.4,914.2 L1231.4,914.3 L1232.4,914.3 L1233.4,914.3 L1234.4,914.4 L1235.4,914.4 L1236.4,914.4 L1237.4,914.4 L1238.4,914.4 L1239.4,914.5 L1240.4,914.5 L1241.4,914.5 L1242.4,914.5 L1243.4,914.5 L1244.4,914.5 L1245.4,914.5" fill="none" stroke="#5555cc" stroke-width="1.8"/>
<path d="M879.4,915.3 L880.7,915.8 L882.0,915.5 L883.3,915.8 L884.6,916.1 L885.9,916.8 L887.2,916.9 L888.5,917.1 L889.8,916.2 L891.1,913.5 L892.4,914.2 L893.7,913.0 L895.0,913.9 L896.3,913.6 L897.6,912.3 L898.9,912.3 L900.2,912.8 L901.5,911.9 L902.8,911.5 L904.1,912.3 L905.4,911.5 L906.7,911.8 L908.0,910.7 L909.3,910.8 L910.6,911.0 L911.9,909.8 L913.2,909.8 L914.5,910.2 L915.8,910.2 L917.1,910.0 L918.4,908.5 L919.7,908.7 L921.0,908.7 L922.3,908.0 L923.6,907.9 L924.9,906.8 L926.2,906.2 L927.5,905.9 L928.8,905.3 L930.1,905.6 L931.4,905.1 L932.7,904.7 L934.0,903.6 L935.3,903.1 L936.6,902.6 L937.9,902.8 L939.2,902.3 L940.5,901.5 L941.8,899.6 L943.1,898.8 L944.4,899.3 L945.7,897.8 L947.0,897.4 L948.3,895.9 L949.6,895.3 L950.9,894.5 L952.2,893.5 L953.5,892.9 L954.8,891.2 L956.1,891.3 L957.4,890.6 L958.7,888.7 L960.0,888.1 L961.3,887.5 L962.6,886.0 L963.9,884.5 L965.2,883.3 L966.5,882.5 L967.8,880.5 L969.1,880.5 L970.4,879.0 L971.7,877.6 L973.0,876.4 L974.3,874.7 L975.6,873.0 L976.9,871.8 L978.2,870.1 L979.5,869.1 L980.8,867.1 L982.1,864.4 L983.4,863.4 L984.7,861.3 L986.0,859.5 L987.3,857.6 L988.6,855.1 L989.9,853.9 L991.2,851.9 L992.5,849.7 L993.8,847.9 L995.1,846.0 L996.4,843.5 L997.7,842.0 L999.0,839.1 L1000.3,837.6 L1001.6,835.8 L1002.9,833.2 L1004.2,831.7 L1005.5,830.2 L1006.8,828.2 L1008.1,825.7 L1009.4,824.7 L1010.7,822.4 L1012.0,820.0 L1013.3,818.5 L1014.6,816.4 L1015.9,814.4 L1017.2,812.4 L1018.5,811.3 L1019.8,809.0 L1021.1,807.2 L1022.4,805.4 L1023.7,803.9 L1025.0,800.7 L1026.3,799.7 L1027.6,798.1 L1028.9,795.6 L1030.2,794.0 L1031.5,791.7 L1032.8,790.1 L1034.1,788.6 L1035.4,786.5 L1036.7,784.9 L1038.0,784.1 L1039.3,781.9 L1040.6,780.1 L1041.9,779.0 L1043.2,776.7 L1044.5,775.5 L1045.8,773.1 L1047.1,771.6 L1048.4,768.7 L1049.7,767.7 L1051.0,766.1 L1052.3,763.3 L1053.6,762.7 L1054.9,759.8 L1056.2,758.3 L1057.5,756.0 L1058.8,754.5 L1060.1,752.7 L1061.4,749.9 L1062.7,749.1 L1064.0,746.2 L1065.3,744.2 L1066.6,742.0 L1067.9,739.3 L1069.2,736.7 L1070.5,734.6 L1071.8,731.7 L1073.1,728.5 L1074.4,726.1 L1075.7,722.6 L1077.0,719.1 L1078.3,716.4 L1079.6,713.1 L1080.9,710.3 L1082.2,708.2 L1083.5,704.8 L1084.8,702.8 L1086.1,699.9 L1087.4,696.2 L1088.7,694.8 L1090.0,692.1 L1091.3,688.2 L1092.6,686.8 L1093.9,683.6 L1095.2,681.2 L1096.5,679.6 L1097.8,676.2 L1099.1,674.4 L1100.4,672.8 L1101.7,670.4 L1103.0,668.0 L1104.3,666.7 L1105.6,664.5 L1106.9,662.3 L1108.2,659.8 L1109.5,658.6 L1110.8,656.5 L1112.1,654.3 L1113.4,652.2 L1114.7,651.0 L1116.0,648.7 L1117.3,647.4 L1118.6,646.0 L1119.9,644.1 L1121.2,642.2 L1122.5,641.1 L1123.8,639.5 L1125.1,638.6 L1126.4,636.9 L1127.7,636.3 L1129.0,635.0 L1130.3,633.5 L1131.6,631.7 L1132.9,630.4 L1134.2,630.3 L1135.5,629.1 L1136.8,627.9 L1138.1,626.5 L1139.4,625.3 L1140.7,625.0 L1142.0,623.8 L1143.3,622.9 L1144.6,622.1 L1145.9,621.3 L1147.2,619.6 L1148.5,618.8 L1149.8,619.0 L1151.1,618.0 L1152.4,617.1 L1153.7,615.1 L1155.0,614.4 L1156.3,614.0 L1157.6,613.5 L1158.9,613.2 L1160.2,611.9 L1161.5,611.9 L1162.8,610.7 L1164.1,610.1 L1165.4,610.4 L1166.7,609.8 L1168.0,609.4 L1169.3,608.7 L1170.6,608.7 L1171.9,608.2 L1173.2,608.4 L1174.5,609.1 L1175.8,609.4 L1177.1,608.6 L1178.4,609.0 L1179.7,610.3 L1181.0,610.5 L1182.3,611.4 L1183.6,611.5 L1184.9,612.8 L1186.2,613.7 L1187.5,615.8 L1188.8,616.5 L1190.1,618.3 L1191.4,620.4 L1192.7,621.4 L1194.0,623.9 L1195.3,626.6 L1196.6,629.4 L1197.9,631.4 L1199.2,634.1 L1200.5,636.5 L1201.8,640.6 L1203.1,642.7 L1204.4,646.1 L1205.7,650.3 L1207.0,653.8 L1208.3,657.8 L1209.6,661.0 L1210.9,665.4 L1212.2,668.2 L1213.5,672.3 L1214.8,676.8 L1216.1,680.0 L1217.4,684.4 L1218.7,689.2 L1220.0,693.4 L1221.3,697.1 L1222.6,701.3 L1223.9,706.0 L1225.2,711.2 L1226.5,715.5 L1227.8,720.0 L1229.1,725.9 L1230.4,730.7 L1231.7,736.3 L1233.0,741.4 L1234.3,746.3 L1235.6,750.5 L1236.9,755.7 L1238.2,759.6 L1239.5,764.3 L1240.8,769.0 L1242.1,774.2 L1243.4,778.7 L1244.7,782.3 L1246.0,786.9 L1247.3,791.3 L1248.6,795.8 L1249.9,800.3 L1251.2,804.7 L1252.5,808.9 L1253.8,813.7 L1255.1,818.3 L1256.4,822.0 L1257.7,826.3 L1259.0,829.7 L1260.3,832.8 L1261.6,837.2 L1262.9,840.9 L1264.2,843.6 L1265.5,846.7 L1266.8,850.8 L1268.1,854.1 L1269.4,857.3 L1270.7,861.0 L1272.0,863.5 L1273.3,866.6 L1274.6,868.3 L1275.9,871.5 L1277.2,874.3 L1278.5,875.6 L1279.8,877.8 L1281.1,880.8 L1282.4,882.9 L1283.7,883.6 L1285.0,886.2 L1286.3,887.1 L1287.6,889.5 L1288.9,890.9 L1290.2,891.8 L1291.5,893.1 L1292.8,895.1 L1294.1,895.9 L1295.4,897.4 L1296.7,897.9 L1298.0,898.8 L1299.3,900.6 L1300.6,901.1 L1301.9,901.6 L1303.2,902.5 L1304.5,903.6 L1305.8,903.9 L1307.1,904.3 L1308.4,903.7 L1309.7,904.2 L1311.0,903.8 L1312.3,904.0 L1313.6,904.0 L1314.9,904.3 L1316.2,904.7 L1317.5,905.2 L1318.8,905.5 L1320.1,906.4 L1321.4,907.5 L1322.7,908.2 L1324.0,908.1 L1325.3,908.6 L1326.6,908.5 L1327.9,909.7 L1329.2,910.3 L1330.5,909.6 L1331.8,909.5 L1333.1,909.7 L1334.4,910.2 L1335.7,910.1 L1337.0,911.2 L1338.3,910.0 L1339.6,910.5 L1340.9,910.4 L1342.2,911.2 L1343.5,911.5 L1344.8,910.8 L1346.1,910.8 L1347.4,911.4 L1348.7,911.7 L1350.0,912.3 L1351.3,911.2 L1352.6,911.4 L1353.9,911.6 L1355.2,911.7 L1356.5,911.9 L1357.8,912.7 L1359.1,912.6 L1360.4,912.2 L1361.7,912.3 L1363.0,912.5 L1364.3,912.4 L1365.6,913.3 L1366.9,912.8 L1368.2,913.2 L1369.5,913.5 L1370.8,913.1 L1372.1,912.8 L1373.4,913.6 L1374.7,913.7 L1376.0,912.9 L1377.3,913.2 L1378.6,913.7 L1379.9,913.1 L1381.2,912.7 L1382.5,912.5 L1383.8,913.7 L1385.1,913.5 L1386.4,912.9 L1387.7,913.1 L1389.0,913.1 L1390.3,912.8 L1391.6,913.8 L1392.9,913.4 L1394.2,912.9 L1395.5,912.7 L1396.8,913.6 L1398.1,913.6 L1399.4,914.5 L1400.7,914.8 L1402.0,915.2 L1403.3,915.1 L1404.1,916.0" fill="none" stroke="#333" stroke-width="1.8"/>
<path d="M879.4,915.3 L880.4,915.2 L881.4,915.1 L882.4,914.9 L883.4,914.8 L884.4,914.7 L885.4,914.6 L886.4,914.4 L887.4,914.3 L888.4,914.2 L889.4,914.0 L890.4,913.9 L891.4,913.7 L892.4,913.6 L893.4,913.5 L894.4,913.3 L895.4,913.2 L896.4,913.0 L897.4,912.9 L898.4,912.7 L899.4,912.6 L900.4,912.4 L901.4,912.3 L902.4,912.1 L903.4,912.0 L904.4,911.8 L905.4,911.6 L906.4,911.5 L907.4,911.3 L908.4,911.1 L909.4,910.9 L910.4,910.8 L911.4,910.6 L912.4,910.4 L913.4,910.2 L914.4,910.0 L915.4,909.7 L916.4,909.5 L917.4,909.3 L918.4,909.1 L919.4,908.8 L920.4,908.5 L921.4,908.3 L922.4,908.0 L923.4,907.7 L924.4,907.4 L925.4,907.1 L926.4,906.8 L927.4,906.4 L928.4,906.1 L929.4,905.8 L930.4,905.5 L931.4,905.1 L932.4,904.7 L933.4,904.4 L934.4,904.0 L935.4,903.5 L936.4,903.1 L937.4,902.6 L938.4,902.1 L939.4,901.5 L940.4,901.0 L941.4,900.4 L942.4,899.8 L943.4,899.2 L944.4,898.6 L945.4,898.0 L946.4,897.4 L947.4,896.8 L948.4,896.1 L949.4,895.5 L950.4,894.8 L951.4,894.1 L952.4,893.5 L953.4,892.8 L954.4,892.1 L955.4,891.5 L956.4,890.8 L957.4,890.1 L958.4,889.4 L959.4,888.6 L960.4,887.9 L961.4,887.1 L962.4,886.3 L963.4,885.4 L964.4,884.5 L965.4,883.6 L966.4,882.6 L967.4,881.6 L968.4,880.6 L969.4,879.6 L970.4,878.6 L971.4,877.6 L972.4,876.6 L973.4,875.5 L974.4,874.5 L975.4,873.4 L976.4,872.2 L977.4,871.1 L978.4,869.9 L979.4,868.6 L980.4,867.2 L981.4,865.8 L982.4,864.3 L983.4,862.9 L984.4,861.4 L985.4,860.0 L986.4,858.5 L987.4,857.0 L988.4,855.6 L989.4,854.1 L990.4,852.6 L991.4,851.1 L992.4,849.6 L993.4,848.1 L994.4,846.6 L995.4,845.1 L996.4,843.6 L997.4,842.1 L998.4,840.6 L999.4,839.1 L1000.4,837.6 L1001.4,836.2 L1002.4,834.7 L1003.4,833.2 L1004.4,831.6 L1005.4,830.1 L1006.4,828.6 L1007.4,827.1 L1008.4,825.6 L1009.4,824.1 L1010.4,822.6 L1011.4,821.1 L1012.4,819.6 L1013.4,818.1 L1014.4,816.6 L1015.4,815.1 L1016.4,813.7 L1017.4,812.2 L1018.4,810.8 L1019.4,809.3 L1020.4,807.9 L1021.4,806.5 L1022.4,805.1 L1023.4,803.6 L1024.4,802.2 L1025.4,800.8 L1026.4,799.4 L1027.4,798.0 L1028.4,796.6 L1029.4,795.2 L1030.4,793.9 L1031.4,792.5 L1032.4,791.1 L1033.4,789.7 L1034.4,788.4 L1035.4,787.0 L1036.4,785.7 L1037.4,784.4 L1038.4,783.0 L1039.4,781.7 L1040.4,780.4 L1041.4,779.0 L1042.4,777.7 L1043.4,776.3 L1044.4,774.9 L1045.4,773.5 L1046.4,772.1 L1047.4,770.7 L1048.4,769.3 L1049.4,768.0 L1050.4,766.6 L1051.4,765.2 L1052.4,763.8 L1053.4,762.4 L1054.4,761.0 L1055.4,759.5 L1056.4,758.1 L1057.4,756.6 L1058.4,755.1 L1059.4,753.6 L1060.4,752.1 L1061.4,750.5 L1062.4,749.0 L1063.4,747.3 L1064.4,745.7 L1065.4,744.0 L1066.4,742.2 L1067.4,740.5 L1068.4,738.6 L1069.4,736.6 L1070.4,734.6 L1071.4,732.5 L1072.4,730.3 L1073.4,728.1 L1074.4,725.8 L1075.4,723.5 L1076.4,721.2 L1077.4,718.9 L1078.4,716.6 L1079.4,714.2 L1080.4,711.9 L1081.4,709.7 L1082.4,707.4 L1083.4,705.2 L1084.4,703.1 L1085.4,701.0 L1086.4,698.9 L1087.4,696.8 L1088.4,694.7 L1089.4,692.7 L1090.4,690.6 L1091.4,688.6 L1092.4,686.6 L1093.4,684.7 L1094.4,682.8 L1095.4,680.9 L1096.4,679.1 L1097.4,677.3 L1098.4,675.6 L1099.4,673.9 L1100.4,672.2 L1101.4,670.6 L1102.4,669.0 L1103.4,667.4 L1104.4,665.9 L1105.4,664.4 L1106.4,662.9 L1107.4,661.5 L1108.4,660.0 L1109.4,658.6 L1110.4,657.1 L1111.4,655.7 L1112.4,654.2 L1113.4,652.8 L1114.4,651.4 L1115.4,650.0 L1116.4,648.7 L1117.4,647.4 L1118.4,646.0 L1119.4,644.8 L1120.4,643.5 L1121.4,642.3 L1122.4,641.1 L1123.4,640.0 L1124.4,638.9 L1125.4,637.9 L1126.4,636.9 L1127.4,635.9 L1128.4,635.0 L1129.4,634.0 L1130.4,633.1 L1131.4,632.2 L1132.4,631.3 L1133.4,630.5 L1134.4,629.6 L1135.4,628.8 L1136.4,628.0 L1137.4,627.2 L1138.4,626.4 L1139.4,625.7 L1140.4,624.9 L1141.4,624.2 L1142.4,623.5 L1143.4,622.7 L1144.4,622.0 L1145.4,621.3 L1146.4,620.6 L1147.4,619.9 L1148.4,619.3 L1149.4,618.6 L1150.4,617.9 L1151.4,617.2 L1152.4,616.6 L1153.4,616.0 L1154.4,615.4 L1155.4,614.8 L1156.4,614.2 L1157.4,613.7 L1158.4,613.2 L1159.4,612.8 L1160.4,612.3 L1161.4,611.9 L1162.4,611.5 L1163.4,611.0 L1164.4,610.6 L1165.4,610.2 L1166.4,609.8 L1167.4,609.4 L1168.4,609.1 L1169.4,608.9 L1170.4,608.7 L1171.4,608.6 L1172.4,608.6 L1173.4,608.7 L1174.4,608.8 L1175.4,608.9 L1176.4,609.1 L1177.4,609.3 L1178.4,609.6 L1179.4,609.8 L1180.4,610.1 L1181.4,610.5 L1182.4,611.1 L1183.4,611.7 L1184.4,612.5 L1185.4,613.3 L1186.4,614.2 L1187.4,615.2 L1188.4,616.3 L1189.4,617.3 L1190.4,618.5 L1191.4,619.7 L1192.4,621.2 L1193.4,622.8 L1194.4,624.6 L1195.4,626.5 L1196.4,628.4 L1197.4,630.5 L1198.4,632.6 L1199.4,634.7 L1200.4,636.9 L1201.4,639.1 L1202.4,641.5 L1203.4,644.1 L1204.4,646.7 L1205.4,649.4 L1206.4,652.2 L1207.4,655.0 L1208.4,657.8 L1209.4,660.7 L1210.4,663.6 L1211.4,666.5 L1212.4,669.4 L1213.4,672.4 L1214.4,675.4 L1215.4,678.5 L1216.4,681.6 L1217.4,684.7 L1218.4,687.9 L1219.4,691.1 L1220.4,694.4 L1221.4,697.7 L1222.4,701.1 L1223.4,704.5 L1224.4,708.0 L1225.4,711.6 L1226.4,715.3 L1227.4,719.0 L1228.4,722.9 L1229.4,726.7 L1230.4,730.6 L1231.4,734.5 L1232.4,738.4 L1233.4,742.3 L1234.4,746.1 L1235.4,749.8 L1236.4,753.4 L1237.4,757.0 L1238.4,760.6 L1239.4,764.2 L1240.4,767.7 L1241.4,771.2 L1242.4,774.7 L1243.4,778.1 L1244.4,781.6 L1245.4,785.0 L1246.4,788.5 L1247.4,791.9 L1248.4,795.3 L1249.4,798.7 L1250.4,802.1 L1251.4,805.6 L1252.4,809.0 L1253.4,812.3 L1254.4,815.6 L1255.4,818.8 L1256.4,821.9 L1257.4,824.9 L1258.4,827.9 L1259.4,830.7 L1260.4,833.5 L1261.4,836.3 L1262.4,839.0 L1263.4,841.8 L1264.4,844.5 L1265.4,847.1 L1266.4,849.7 L1267.4,852.3 L1268.4,854.7 L1269.4,857.2 L1270.4,859.6 L1271.4,861.9 L1272.4,864.2 L1273.4,866.4 L1274.4,868.5 L1275.4,870.5 L1276.4,872.4 L1277.4,874.3 L1278.4,876.0 L1279.4,877.7 L1280.4,879.3 L1281.4,880.9 L1282.4,882.4 L1283.4,883.8 L1284.4,885.2 L1285.4,886.5 L1286.4,887.8 L1287.4,889.0 L1288.4,890.1 L1289.4,891.2 L1290.4,892.3 L1291.4,893.3 L1292.4,894.3 L1293.4,895.2 L1294.4,896.1 L1295.4,897.0 L1296.4,897.8 L1297.4,898.6 L1298.4,899.3 L1299.4,900.0 L1300.4,900.7 L1301.4,901.3 L1302.4,901.9 L1303.4,902.5 L1304.4,903.1 L1305.4,903.7 L1306.4,904.2 L1307.4,904.8 L1308.4,905.3 L1309.4,905.8 L1310.4,906.3 L1311.4,906.7 L1312.4,907.0 L1313.4,907.3 L1314.4,907.6 L1315.4,907.9 L1316.4,908.2 L1317.4,908.5 L1318.4,908.8 L1319.4,909.1 L1320.4,909.4 L1321.4,909.7 L1322.4,910.1 L1323.4,910.4 L1324.4,910.8 L1325.4,911.1 L1326.4,911.5 L1327.4,911.8 L1328.4,912.1 L1329.4,912.4 L1330.4,912.6 L1331.4,912.8 L1332.4,913.0 L1333.4,913.1 L1334.4,913.3 L1335.4,913.4 L1336.4,913.5 L1337.4,913.6 L1338.4,913.7 L1339.4,913.8 L1340.4,913.9 L1341.4,914.0 L1342.4,914.0 L1343.4,914.1 L1344.4,914.2 L1345.4,914.2 L1346.4,914.3 L1347.4,914.4 L1348.4,914.4 L1349.4,914.5 L1350.4,914.5 L1351.4,914.6 L1352.4,914.6 L1353.4,914.7 L1354.4,914.7 L1355.4,914.7 L1356.4,914.8 L1357.4,914.8 L1358.4,914.9 L1359.4,914.9 L1360.4,914.9 L1361.4,915.0 L1362.4,915.0 L1363.4,915.0 L1364.4,915.1 L1365.4,915.1 L1366.4,915.1 L1367.4,915.1 L1368.4,915.2 L1369.4,915.2 L1370.4,915.2 L1371.4,915.3 L1372.4,915.3 L1373.4,915.3 L1374.4,915.3 L1375.4,915.4 L1376.4,915.4 L1377.4,915.4 L1378.4,915.5 L1379.4,915.5 L1380.4,915.5 L1381.4,915.5 L1382.4,915.6 L1383.4,915.6 L1384.4,915.6 L1385.4,915.7 L1386.4,915.7 L1387.4,915.7 L1388.4,915.8 L1389.4,915.8 L1390.4,915.8 L1391.4,915.8 L1392.4,915.9 L1393.4,915.9 L1394.4,915.9 L1395.4,916.0 L1396.4,916.0 L1397.4,916.0 L1398.4,916.0 L1399.4,916.1 L1400.4,916.1 L1401.4,916.1 L1402.4,916.2 L1403.4,916.2 L1404.1,916.2" fill="none" stroke="#e020e0" stroke-width="2.6" stroke-dasharray="4.5 3"/>
<rect x="902.8" y="546.4" width="121.7" height="129.5" fill="#fff" stroke="#555" stroke-width="2"/>
<line x1="903.5" y1="561.3" x2="942.7" y2="561.3" stroke="#444" stroke-width="2.8"/>
<text x="948.4" y="566.9" font-family="Liberation Sans" font-size="19.5" font-weight="normal" text-anchor="start" fill="#1a1a1a" textLength="71.8" lengthAdjust="spacingAndGlyphs" stroke="#1a1a1a" stroke-width="0.4" >Raw data</text>
<line x1="903.5" y1="585.8" x2="942.7" y2="585.8" stroke="#e85050" stroke-width="2.8"/>
<text x="948.4" y="591.4" font-family="Liberation Sans" font-size="19.5" font-weight="normal" text-anchor="start" fill="#1a1a1a" textLength="29.1" lengthAdjust="spacingAndGlyphs" stroke="#1a1a1a" stroke-width="0.4" >C-C</text>
<line x1="903.5" y1="610.4" x2="942.7" y2="610.4" stroke="#5555cc" stroke-width="2.8"/>
<text x="948.4" y="616.0" font-family="Liberation Sans" font-size="19.5" font-weight="normal" text-anchor="start" fill="#1a1a1a" textLength="30.5" lengthAdjust="spacingAndGlyphs" stroke="#1a1a1a" stroke-width="0.4" >C-O</text>
<line x1="903.5" y1="636.5" x2="942.7" y2="636.5" stroke="#f0b070" stroke-width="2.8"/>
<text x="948.4" y="642.1" font-family="Liberation Sans" font-size="19.5" font-weight="normal" text-anchor="start" fill="#1a1a1a" textLength="35.5" lengthAdjust="spacingAndGlyphs" stroke="#1a1a1a" stroke-width="0.4" >C=O</text>
<line x1="903.5" y1="660.6" x2="942.7" y2="660.6" stroke="#e020e0" stroke-width="2.8" stroke-dasharray="5 4"/>
<text x="948.4" y="666.2" font-family="Liberation Sans" font-size="19.5" font-weight="normal" text-anchor="start" fill="#1a1a1a" textLength="46.2" lengthAdjust="spacingAndGlyphs" stroke="#1a1a1a" stroke-width="0.4" >Fitting</text>
</g>
</svg>
</body></html>
